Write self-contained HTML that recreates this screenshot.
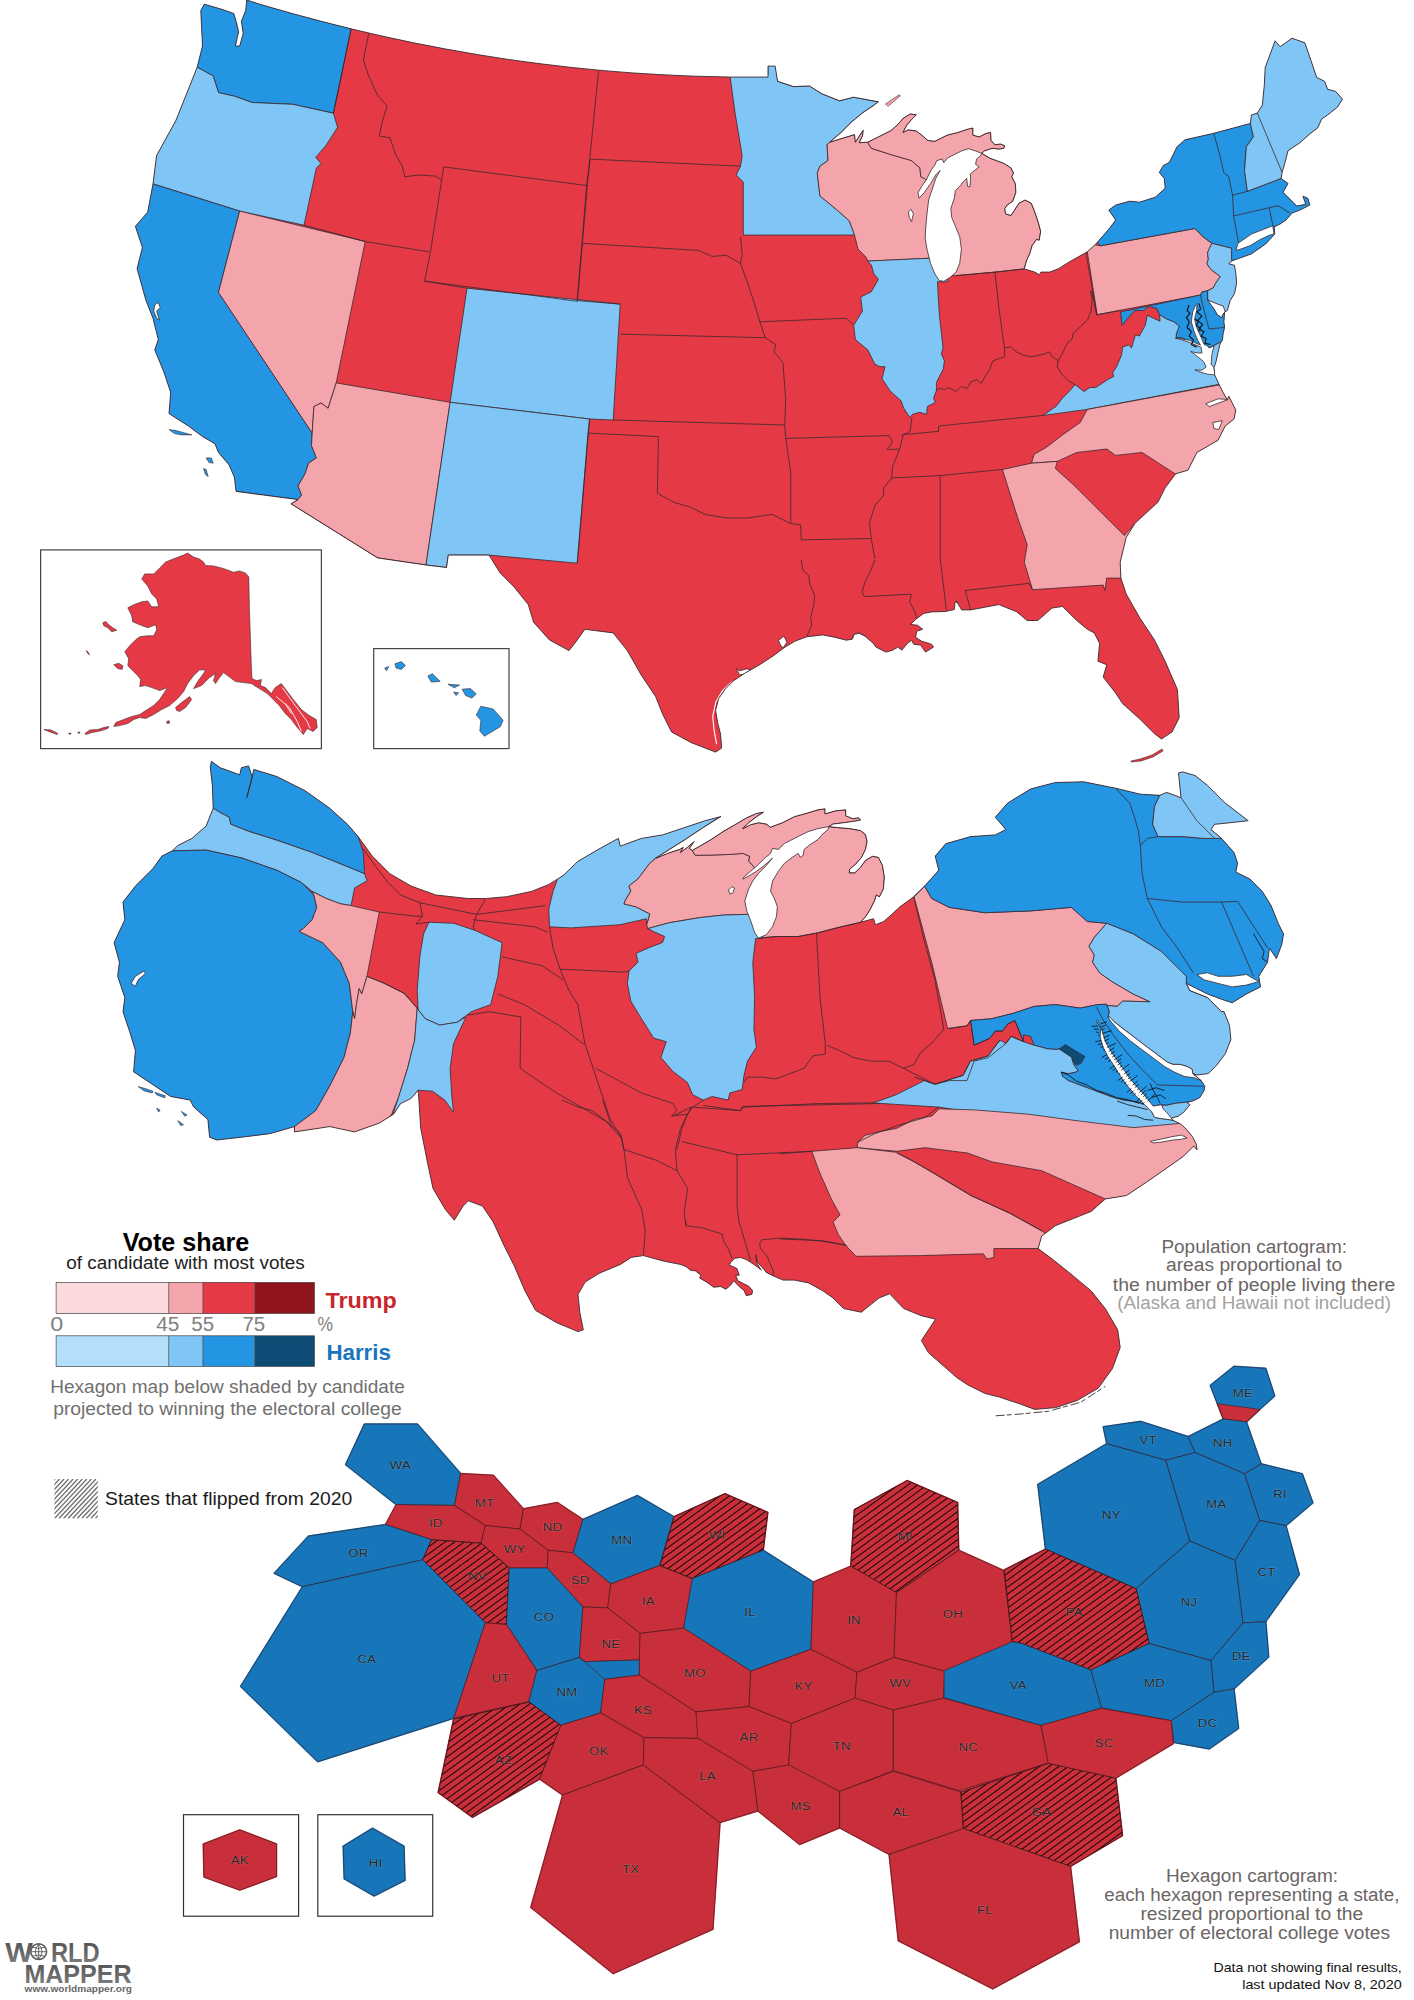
<!DOCTYPE html>
<html><head><meta charset="utf-8"><title>US election 2024 maps</title>
<style>html,body{margin:0;padding:0;background:#fff}svg{display:block}text{font-family:"Liberation Sans",sans-serif}</style>
</head><body>
<svg width="1414" height="2000" viewBox="0 0 1414 2000">
<rect width="1414" height="2000" fill="#fff"/>
<!-- map1 -->
<clipPath id="c1"><path d="M204.3,4.2 L220.2,8.8 L233.7,13.4 L236.1,21.2 L238.6,31.8 L235.4,46 L239.7,46 L243.2,33.6 L241.4,21.2 L245.7,10.6 L246.7,0 L260,4.3 L291,13.2 L322,21.5 L353,29.3 L384,36.5 L415,43.1 L446,49.1 L477,54.5 L508,59.4 L539,63.6 L570,67.3 L601,70.4 L632,72.9 L663,74.8 L694,76.2 L725,76.9 L729.8,77.1 L768,77.1 L768,66.1 L775.1,66.1 L777.6,81.3 L793.5,86.6 L809.4,85.9 L821.8,93.7 L839.5,100.8 L853.6,97.2 L878.4,101.8 L873,105.9 L862.4,113 L851.8,121.8 L841.2,132.4 L829.7,142.2 L843,138.1 L854.5,134.6 L855.4,142.2 L859.8,135.1 L863.3,130.3 L862.4,136.3 L859.3,142.7 L867.7,142.2 L878.3,136.9 L890.7,130.7 L897.8,124.5 L903.1,118.3 L910.2,113.9 L916.4,114.8 L911.9,119.2 L906.6,125.4 L903.1,132.4 L908.4,129.8 L916.4,131 L921.7,135.1 L927.9,140.4 L934.9,141.3 L940.2,138.6 L947.3,135.1 L957.9,132.4 L968.5,128.9 L972.9,128 L972.9,135.1 L979.1,136.9 L986.2,133.3 L990.6,132.4 L991.1,140.4 L995,144.8 L1000.3,143.9 L1004.8,145.7 L1003.9,148.3 L998.6,149.2 L992.4,148.3 L984.4,151 L981.8,153.3 L989.7,158.1 L996.8,160.7 L1003.9,163.4 L1010.9,167.8 L1013.6,173.1 L1011.8,176.6 L1015.4,183.7 L1015.9,192.5 L1012.7,201.4 L1007.4,204.9 L1004.8,208.5 L1005.6,213.8 L1010.9,215.5 L1014.5,210.2 L1018.9,203.2 L1025.1,200 L1031.3,203.2 L1034.8,212 L1038.4,222.6 L1040.7,231.4 L1039.2,240.3 L1036.6,239.4 L1032.2,245.6 L1029.5,254.4 L1026.9,259.7 L1024.2,268.9 L1034.8,272.1 L1039.2,274.8 L1041,272.1 L1049.8,272.1 L1058.7,268.6 L1070,261.5 L1087.3,251.8 L1095.9,244 L1109.8,227.9 L1115.7,220 L1108.8,210.1 L1115.7,205.1 L1129.6,201.2 L1139.5,202.2 L1155.3,197.2 L1165.2,188.3 L1164.3,178.4 L1159.3,172.5 L1163.3,165.5 L1169.2,162.6 L1177.1,146.7 L1185,139.8 L1213.8,133.3 L1250.4,123.4 L1251.4,115 L1257.3,113.1 L1262.3,105.1 L1264.3,85.3 L1265.2,67.5 L1275.1,40.8 L1280.1,46.7 L1292,38.2 L1304.9,42.8 L1316.7,77.4 L1324.7,81.4 L1327.6,89.3 L1335.5,91.3 L1342.5,99.2 L1337.5,107.1 L1327.6,115 L1321.7,119 L1317.7,127.9 L1309.8,133.9 L1299.9,142.8 L1288,150.7 L1285,162.6 L1282.1,172.5 L1281.1,178.4 L1288,183.4 L1283.1,192.3 L1290,199.2 L1296.9,206.1 L1305.8,204.2 L1302.9,196.2 L1307.8,198.2 L1309.8,205.1 L1299.9,210.1 L1292,213.1 L1286,220 L1280.1,224 L1274.2,226.9 L1274.8,234.1 L1265.6,244 L1251.4,253.9 L1237.3,258.9 L1231.6,261 L1228.8,263.8 L1234.5,265.3 L1235.9,273.7 L1236.6,283.6 L1234.5,293.6 L1230.2,300.6 L1227.4,310.5 L1224.6,311.9 L1223.9,321.8 L1224.6,327.5 L1223.2,333.2 L1222.4,340.2 L1220.3,343.1 L1218.2,351.5 L1216.1,361.4 L1214,367.8 L1214.7,374.9 L1218.9,384.1 L1223.2,392.6 L1227.4,400.1 L1228.7,396 L1235.8,410.1 L1234,419 L1225.2,426 L1218.1,440.2 L1196.9,452.5 L1188,470.2 L1175.7,473.8 L1165.1,487.9 L1158,502.1 L1135,523.3 L1126.2,537.4 L1120.2,562.2 L1120.9,578.1 L1126.2,594 L1140.3,618.7 L1154.5,640 L1165.1,661.2 L1177.4,689.5 L1179.2,717.8 L1172.1,731.9 L1161.5,739 L1154.5,733.7 L1140.3,719.5 L1122.6,703.6 L1115.6,693 L1103.2,677.1 L1106.7,664.7 L1097.9,661.2 L1099.6,643.5 L1094.3,632.9 L1087.3,629.3 L1076.7,620.5 L1062.5,606.4 L1051.9,608.1 L1037.8,620.5 L1027.2,620.5 L1016.5,611.7 L998.9,604.6 L970.6,609.9 L961.7,609.9 L956.4,601.1 L958.2,602.6 L955.2,601.6 L954.3,609.5 L945.3,611.5 L931.5,611.9 L923.6,613.5 L915.6,619.4 L910.7,624.4 L917.6,625.3 L922.6,629.3 L916.6,631.3 L915.6,637.2 L921.6,641.2 L931.5,644.2 L933.5,647.1 L925.5,652.1 L920.6,645.1 L913.7,644.2 L911.7,640.2 L907.7,643.2 L901.8,650.1 L897.8,647.1 L892.9,650.1 L885.9,652.1 L876,647.1 L873.1,643.2 L865.1,636.2 L859.2,633.3 L854.3,634.3 L852.3,639.2 L846.3,640.2 L834.5,637.2 L822.6,634.9 L806.7,636.8 L794.9,641.2 L785,647.1 L773.1,656 L759.2,665 L745.3,672.9 L733.5,680.8 L725.5,688.7 L718.6,698.6 L715.6,710.5 L717.6,722.4 L720.6,734.3 L721.6,748.1 L715.6,752.1 L690.9,742.5 L671.5,731.9 L662.7,714.2 L655.6,696.5 L641.4,675.3 L627.3,650.6 L613.2,632.9 L584.9,629.3 L576,641.7 L569,650.6 L549.5,640 L533.6,622.3 L528.3,604.6 L514.1,586.9 L500,572.8 L489,555.1 L448.3,555.1 L446.5,567.5 L426,565 L377.6,557.9 L290.9,503.8 L298,499.6 L236.1,491.4 L234.4,477.3 L229.1,464.9 L218.5,452.5 L214.9,443.7 L202.5,436.6 L188.4,426 L169,413.6 L170.7,392.4 L163.6,371.2 L154.8,350 L158.3,339.5 L153,318.2 L146,300.6 L137.1,268.7 L142.4,247.5 L135.4,226.3 L147.7,212.2 L153,183.9 L156.6,155.6 L176,120.2 L197.2,67.2 L202.5,46 L200.8,10.6Z"/></clipPath>
<g clip-path="url(#c1)">
<rect x="80" y="0" width="1300" height="770" fill="#e63946"/>
<path d="M188.4,-10.6 L246.7,-10.6 L351.1,29 L333.4,113.2 L292.7,104.3 L269.7,103.3 L252.1,102.5 L234.4,96.2 L218.5,92.6 L213.2,76 L197.2,67.2 L181.3,67.2Z" fill="#2395e3" stroke="#3a2a2e" stroke-width="0.8" stroke-linejoin="round"/>
<path d="M181.3,67.2 L197.2,67.2 L213.2,76 L218.5,92.6 L234.4,96.2 L252.1,102.5 L269.7,103.3 L292.7,104.3 L333.4,113.2 L337.6,127.3 L326.3,145 L315.7,157.4 L321,163.4 L316.4,168 L304,225.2 L239.7,211.1 L153,183.9 L128.3,176.8Z" fill="#7fc6f6" stroke="#3a2a2e" stroke-width="0.8" stroke-linejoin="round"/>
<path d="M128.3,176.8 L153,183.9 L239.7,211.1 L218.5,292.4 L312.2,433.1 L311.5,445.5 L316.4,457.9 L308.6,463.2 L305.1,473.8 L298,486.1 L301.6,495 L298,499.6 L236.1,491.4 L206.1,509.1 L85.9,456.1Z" fill="#2395e3" stroke="#3a2a2e" stroke-width="0.8" stroke-linejoin="round"/>
<path d="M239.7,211.1 L365.2,241.5 L336.2,382.9 L328.1,408.3 L321,403 L313.9,406.6 L312.2,433.1 L218.5,292.4Z" fill="#f4a5ab" stroke="#3a2a2e" stroke-width="0.8" stroke-linejoin="round"/>
<path d="M336.2,382.9 L450.1,402.3 L426,565 L377.6,557.9 L290.9,503.8 L298,499.6 L301.6,495 L298,486.1 L305.1,473.8 L308.6,463.2 L316.4,457.9 L311.5,445.5 L312.2,433.1 L313.9,406.6 L321,403 L328.1,408.3Z" fill="#f4a5ab" stroke="#3a2a2e" stroke-width="0.8" stroke-linejoin="round"/>
<path d="M467,288.2 L620.2,304.1 L613.2,420 L589.5,419 L450.1,402.3Z" fill="#7fc6f6" stroke="#3a2a2e" stroke-width="0.8" stroke-linejoin="round"/>
<path d="M450.1,402.3 L589.7,419 L588,433.1 L577.4,563.2 L489,555.1 L448.3,555.1 L446.5,567.5 L426,565Z" fill="#7fc6f6" stroke="#3a2a2e" stroke-width="0.8" stroke-linejoin="round"/>
<path d="M729.8,74.3 L768,74.3 L768,63.6 L777.6,63.6 L777.6,81.3 L793.5,86.6 L809.4,85.9 L821.8,93.7 L839.5,100.8 L853.6,97.2 L878.4,101.8 L873,105.9 L862.4,113 L851.8,121.8 L841.2,132.4 L829.7,142.2 L827.1,144.8 L828,160.7 L820,166 L817.3,173.1 L819.1,189 L820,196.1 L828.8,203.2 L839.4,212 L849.2,220.8 L852.7,229.7 L854.5,235 L743.3,235.1 L743.3,182.1 L736.2,175 L740.5,166.2 L742.2,155.6 L735.1,113.2Z" fill="#7fc6f6" stroke="#3a2a2e" stroke-width="0.8" stroke-linejoin="round"/>
<path d="M829.7,142.2 L843,138.1 L854.5,134.6 L855.4,142.2 L859.8,135.1 L863.3,130.3 L862.4,136.3 L859.3,142.7 L867.7,142.2 L871.3,148.3 L890.7,154.5 L911.9,160.7 L915.5,164.3 L919.9,167.8 L920.8,176.6 L924.3,178.4 L926.1,180.2 L942,166 L949.1,167.8 L949.1,258.3 L927,258.3 L867.7,261.1 L866,257.1 L858,249.1 L854.5,235 L852.7,229.7 L849.2,220.8 L839.4,212 L828.8,203.2 L820,196.1 L819.1,189 L817.3,173.1 L820,166 L828,160.7 L827.1,144.8 L829.7,142.2Z" fill="#f4a5ab" stroke="#3a2a2e" stroke-width="0.8" stroke-linejoin="round"/>
<path d="M867.7,142.2 L878.3,136.9 L890.7,130.7 L897.8,124.5 L903.1,118.3 L910.2,113.9 L916.4,114.8 L911.9,119.2 L906.6,125.4 L903.1,132.4 L908.4,129.8 L916.4,131 L921.7,135.1 L927.9,140.4 L934.9,141.3 L940.2,138.6 L947.3,135.1 L957.9,132.4 L968.5,128.9 L972.9,128 L972.9,135.1 L979.1,136.9 L986.2,133.3 L990.6,132.4 L991.1,140.4 L995,144.8 L1000.3,143.9 L1004.8,145.7 L1003.9,148.3 L998.6,149.2 L992.4,148.3 L984.4,151 L981.8,153.3 L961.4,164.3 L942,166 L926.1,180.2 L924.3,178.4 L920.8,176.6 L919.9,167.8 L915.5,164.3 L911.9,160.7 L890.7,154.5 L871.3,148.3 L867.7,142.2Z" fill="#f4a5ab" stroke="#3a2a2e" stroke-width="0.8" stroke-linejoin="round"/>
<path d="M981.8,153.3 L989.7,158.1 L996.8,160.7 L1003.9,163.4 L1010.9,167.8 L1013.6,173.1 L1011.8,176.6 L1015.4,183.7 L1015.9,192.5 L1012.7,201.4 L1007.4,204.9 L1004.8,208.5 L1005.6,213.8 L1010.9,215.5 L1014.5,210.2 L1018.9,203.2 L1025.1,200 L1031.3,203.2 L1034.8,212 L1038.4,222.6 L1040.7,231.4 L1039.2,240.3 L1036.6,239.4 L1032.2,245.6 L1029.5,254.4 L1026.9,259.7 L1024.2,268.9 L995,272.1 L956.1,275.6 L943.8,275.6 L947.3,213.8 L950.8,178.4 L970.3,160.7Z" fill="#f4a5ab" stroke="#3a2a2e" stroke-width="0.8" stroke-linejoin="round"/>
<path d="M867.7,261.1 L927,258.3 L947.3,258.3 L947.3,281.8 L937.4,281.8 L937.4,281.6 L939.4,315.2 L943,347.9 L941.4,353.9 L944.4,360.8 L943.4,368.7 L939.4,376.6 L936.4,382.6 L936.4,390.5 L933.5,398.4 L935.4,402.4 L927.5,406.3 L926.5,414.3 L919.6,412.3 L912.7,414.3 L909.7,417.2 L903.8,408.3 L900.8,400.4 L893.9,394.5 L889.9,390.5 L882,378.6 L885,366.7 L880,366.7 L874.8,364.1 L867.8,350 L855.4,339.5 L853.6,325.3 L862.4,311.2 L860.7,297 L871.3,291.7 L878.4,279.3 L873.9,273.9 L871.3,265Z" fill="#7fc6f6" stroke="#3a2a2e" stroke-width="0.8" stroke-linejoin="round"/>
<path d="M1097.2,314.7 L1087.3,251.8 L1090.8,244 L1100.4,245.8 L1194.9,228.5 L1203.4,237 L1211.8,243.3 L1207.6,252.5 L1208.3,259.6 L1206.9,263.8 L1211.1,269.5 L1220.3,276.6 L1215.4,283.6 L1213.3,287.9 L1207.6,290.7 L1201.9,292.1 L1200.5,295Z" fill="#f4a5ab" stroke="#3a2a2e" stroke-width="0.8" stroke-linejoin="round"/>
<path d="M1100.4,245.8 L1083.7,226.3 L1154.5,155.6 L1184.5,130.8 L1214.6,127.3 L1250.4,121 L1253.4,136.8 L1246.4,146.7 L1244.5,170.5 L1247.4,191.3 L1281.1,178.4 L1307.8,178.4 L1347.4,218 L1288,277.4 L1231.6,262.4 L1231.6,248.3 L1211.8,243.3 L1203.4,237 L1194.9,228.5Z" fill="#2395e3" stroke="#3a2a2e" stroke-width="0.8" stroke-linejoin="round"/>
<path d="M1250.4,123.4 L1248.4,113.1 L1257.3,107.1 L1262.3,85.3 L1264.3,67.5 L1274.2,31.9 L1307.8,31.9 L1367.2,99.2 L1307.8,178.4 L1281.1,178.4 L1247.4,191.3 L1244.5,170.5 L1246.4,146.7 L1253.4,136.8Z" fill="#7fc6f6" stroke="#3a2a2e" stroke-width="0.8" stroke-linejoin="round"/>
<path d="M1211.8,243.3 L1231.6,248.3 L1231.6,260.3 L1244.4,262.4 L1244.4,319 L1223.2,319 L1223.2,306.3 L1218.9,304.9 L1211.8,302 L1207.6,299.9 L1207.6,290.7 L1213.3,287.9 L1215.4,283.6 L1220.3,276.6 L1211.1,269.5 L1206.9,263.8 L1208.3,259.6 L1207.6,252.5Z" fill="#7fc6f6" stroke="#3a2a2e" stroke-width="0.8" stroke-linejoin="round"/>
<path d="M1120.6,311.9 L1200.5,295 L1201.9,292.1 L1207.6,290.7 L1207.6,299.9 L1213.3,307.7 L1217.5,314.8 L1221.7,317.6 L1223.2,313.6 L1227.4,311.9 L1227.4,321.8 L1227.4,340.2 L1221.7,341.6 L1209,348 L1200.5,345.9 L1196.3,345.9 L1189.2,341.6 L1180.7,337.4 L1175.8,338.8 L1176.5,333.2 L1179.3,326.1 L1173.6,321.8 L1166.6,319 L1159.5,314.8 L1156.7,308.4 L1148.2,306.6 L1143.9,310.5 L1134.8,310.5 L1128.4,317.6 L1122,325.4Z" fill="#2395e3" stroke="#3a2a2e" stroke-width="0.8" stroke-linejoin="round"/>
<path d="M1232.2,381.8 L1087.3,409.4 L1043.1,415.4 L1050.3,410.3 L1056.2,406.3 L1062.2,398.4 L1070.1,390.5 L1075,384.6 L1080,388.5 L1084,391.5 L1089.9,387.5 L1095.8,387.5 L1101.8,383.6 L1107.7,379.6 L1113.7,376.6 L1112.7,372.7 L1116.6,366.7 L1121.6,354.9 L1122.6,346.9 L1128.5,345 L1131.5,347.9 L1135.4,335 L1139.4,336 L1145.3,325.1 L1147.3,315.2 L1153.3,318.2 L1160,321.2 L1159.5,314.8 L1166.6,319 L1173.6,321.8 L1179.3,326.1 L1176.5,333.2 L1175.8,338.8 L1180.7,337.4 L1189.2,341.6 L1196.3,345.9 L1200.5,345.9 L1209,348 L1221.7,341.6 L1227.4,340.2 L1227.4,375.6Z" fill="#7fc6f6" stroke="#3a2a2e" stroke-width="0.8" stroke-linejoin="round"/>
<path d="M1232.2,382.5 L1087.3,409.4 L1080.2,422.5 L1062.5,434.9 L1046.6,447.2 L1034.2,454.3 L1031.4,463.2 L1057.2,461.4 L1076.7,452.5 L1106.7,449 L1115.6,455.4 L1142.1,452.5 L1175,473.8 L1196.9,480.8 L1253.5,456.1 L1253.5,385.4Z" fill="#f4a5ab" stroke="#3a2a2e" stroke-width="0.8" stroke-linejoin="round"/>
<path d="M1002.4,469.5 L1031.4,463.2 L1057.2,461.4 L1055.4,468.5 L1073.1,484.4 L1090.8,502.1 L1108.5,519.7 L1124.4,535.6 L1135,523.3 L1147.4,526.8 L1147.4,578.1 L1120.9,578.1 L1106.7,578.1 L1104.9,590.5 L1103.2,585.1 L1032.5,589.7 L1024.3,562.2 L1027.2,544.5 L1018.3,519.7Z" fill="#f4a5ab" stroke="#3a2a2e" stroke-width="0.8" stroke-linejoin="round"/>
<path d="M351.1,29 L333.4,113.2" fill="none" stroke="#3a2a2e" stroke-width="0.8" stroke-linejoin="round"/>
<path d="M368.7,33.6 L363.4,60.1 L368.7,76 L377.6,95.5 L387.1,106.1 L382.2,122 L379.3,136.1 L390,137.9 L395.3,153.8 L402.3,166.2 L404.8,176.8 L418.2,175 L435.9,176.1 L441.2,180.3" fill="none" stroke="#3a2a2e" stroke-width="0.8" stroke-linejoin="round"/>
<path d="M443.7,166.9 L430.6,251.1" fill="none" stroke="#3a2a2e" stroke-width="0.8" stroke-linejoin="round"/>
<path d="M304,225.2 L365.2,241.5 L428.9,251.8" fill="none" stroke="#3a2a2e" stroke-width="0.8" stroke-linejoin="round"/>
<path d="M443.7,166.9 L587.3,185.6 L577.4,301.3 L424.6,281.1 L430.6,251.1" fill="none" stroke="#3a2a2e" stroke-width="0.8" stroke-linejoin="round"/>
<path d="M598.6,70.7 L589.7,159.1 L587.3,185.6" fill="none" stroke="#3a2a2e" stroke-width="0.8" stroke-linejoin="round"/>
<path d="M424.6,281.1 L467,288.2" fill="none" stroke="#3a2a2e" stroke-width="0.8" stroke-linejoin="round"/>
<path d="M590.2,159.1 L740.5,166.2" fill="none" stroke="#3a2a2e" stroke-width="0.8" stroke-linejoin="round"/>
<path d="M590.2,159.1 L586.6,185.6 L582,243.3 L577.1,300.6" fill="none" stroke="#3a2a2e" stroke-width="0.8" stroke-linejoin="round"/>
<path d="M582,243.3 L698,250.4 L712.2,256.4 L726.3,255.3 L740.5,263.4" fill="none" stroke="#3a2a2e" stroke-width="0.8" stroke-linejoin="round"/>
<path d="M740.5,236.9 L742.2,254.6 L740.5,263.4 L747.5,282.9 L754.6,304.1 L759.9,321.8 L765.2,337.7 L775.8,344.8 L774,351.8 L782.9,362.4 L785.7,399.9" fill="none" stroke="#3a2a2e" stroke-width="0.8" stroke-linejoin="round"/>
<path d="M759.9,321.8 L846.5,318.2 L853.6,325.3" fill="none" stroke="#3a2a2e" stroke-width="0.8" stroke-linejoin="round"/>
<path d="M620.2,334.2 L765.2,337.7" fill="none" stroke="#3a2a2e" stroke-width="0.8" stroke-linejoin="round"/>
<path d="M577.1,300.6 L620.2,304.1" fill="none" stroke="#3a2a2e" stroke-width="0.8" stroke-linejoin="round"/>
<path d="M956.1,275.6 L995,272.1 L1024.2,268.9" fill="none" stroke="#3a2a2e" stroke-width="0.8" stroke-linejoin="round"/>
<path d="M613.2,420 L784.7,425" fill="none" stroke="#3a2a2e" stroke-width="0.8" stroke-linejoin="round"/>
<path d="M785.7,399.9 L784.7,425" fill="none" stroke="#3a2a2e" stroke-width="0.8" stroke-linejoin="round"/>
<path d="M589.5,419 L588.4,433.1 L658.4,436.6 L657.4,493.2 L673.3,502.1 L690.9,507.4 L705.1,514.4 L726.3,518 L747.5,518 L772.3,514.4 L790,523.3 L800.6,525 L801.3,539.9" fill="none" stroke="#3a2a2e" stroke-width="0.8" stroke-linejoin="round"/>
<path d="M801.2,560 L802.8,569.9 L808.7,575.8 L809.7,583.8 L814.7,595.6 L813.7,605.5 L810.7,617.4 L811.7,625.3 L806.7,636.8" fill="none" stroke="#3a2a2e" stroke-width="0.8" stroke-linejoin="round"/>
<path d="M588.4,433.1 L577.1,563.2" fill="none" stroke="#3a2a2e" stroke-width="0.8" stroke-linejoin="round"/>
<path d="M784.7,425 L785.7,438.4 L790.7,472 L790.7,523.3" fill="none" stroke="#3a2a2e" stroke-width="0.8" stroke-linejoin="round"/>
<path d="M785.7,438.4 L889,435.6 L892.5,441.9 L887.2,449.7 L899.6,449" fill="none" stroke="#3a2a2e" stroke-width="0.8" stroke-linejoin="round"/>
<path d="M801.3,539.9 L870.6,538.5" fill="none" stroke="#3a2a2e" stroke-width="0.8" stroke-linejoin="round"/>
<path d="M912,417.2 L910.2,431.3 L903.1,434.9 L899.6,449 L892.5,466.7 L891.8,478 L883.7,487.9 L883.7,495 L874.8,505.6 L869.5,523.3 L871.3,538.5 L874.8,558.6" fill="none" stroke="#3a2a2e" stroke-width="0.8" stroke-linejoin="round"/>
<path d="M875,560 L870.1,571.9 L865.1,581.8 L862.2,591.7 L864.2,596.6 L911.3,594.1 L909.7,601.6 L914.7,611.5 L916.6,618.4" fill="none" stroke="#3a2a2e" stroke-width="0.8" stroke-linejoin="round"/>
<path d="M891.8,478 L940.2,475.5" fill="none" stroke="#3a2a2e" stroke-width="0.8" stroke-linejoin="round"/>
<path d="M940.2,475.5 L940.2,560" fill="none" stroke="#3a2a2e" stroke-width="0.8" stroke-linejoin="round"/>
<path d="M940.4,560 L946.3,609.5" fill="none" stroke="#3a2a2e" stroke-width="0.8" stroke-linejoin="round"/>
<path d="M901.3,434.9 L938.5,431.3 L938.5,426" fill="none" stroke="#3a2a2e" stroke-width="0.8" stroke-linejoin="round"/>
<path d="M938.8,426 L1043.1,415.4" fill="none" stroke="#3a2a2e" stroke-width="0.8" stroke-linejoin="round"/>
<path d="M940.2,475.5 L1002.4,469.5" fill="none" stroke="#3a2a2e" stroke-width="0.8" stroke-linejoin="round"/>
<path d="M965.3,590.5 L1028.9,583.4 L1032.5,589.7" fill="none" stroke="#3a2a2e" stroke-width="0.8" stroke-linejoin="round"/>
<path d="M965.3,590.5 L970.6,609.9" fill="none" stroke="#3a2a2e" stroke-width="0.8" stroke-linejoin="round"/>
<path d="M1213.8,133.3 L1219.7,154.7 L1223.7,172.5 L1228.6,176.4 L1232.6,195.2 L1233.6,216 L1238.5,242.8" fill="none" stroke="#3a2a2e" stroke-width="0.8" stroke-linejoin="round"/>
<path d="M1257.3,113.1 L1282.1,172.5" fill="none" stroke="#3a2a2e" stroke-width="0.8" stroke-linejoin="round"/>
<path d="M1232.6,195.2 L1247.4,191.3" fill="none" stroke="#3a2a2e" stroke-width="0.8" stroke-linejoin="round"/>
<path d="M1233.6,216 L1269.2,207.7 L1278.1,205.7 L1290,213.1" fill="none" stroke="#3a2a2e" stroke-width="0.8" stroke-linejoin="round"/>
<path d="M1269.2,207.7 L1273.2,226.9" fill="none" stroke="#3a2a2e" stroke-width="0.8" stroke-linejoin="round"/>
<path d="M1200.5,295 L1202.6,304.9 L1209,328.9 L1223.9,327.5" fill="none" stroke="#3a2a2e" stroke-width="0.8" stroke-linejoin="round"/>
<path d="M936.4,390.5 L939.4,388.5 L945.3,389.5 L948.3,387.5 L956.2,391.5 L961.2,386.5 L967.1,388.5 L971.1,381.6 L977,379.6 L981,383.6 L985,376.6 L988.9,370.7 L992.9,360.8 L998.8,358.8 L1004.8,356.8 L1004.4,347.9 L1010.7,346.9 L1016.6,351.9 L1022.6,354.9 L1030.5,356.8 L1036.4,355.8 L1044.4,353.9 L1049.3,351.9 L1052.3,356.8 L1058.2,360.8 L1062.2,353.9 L1065.1,347.9 L1068.1,342 L1072.1,339 L1073.1,333.1 L1078,329.1 L1082,325.1 L1087.9,319.2 L1090.9,311.3 L1092.3,299.4 L1090.3,291.1 L1091.9,291.5 L1096.8,314.9" fill="none" stroke="#3a2a2e" stroke-width="0.8" stroke-linejoin="round"/>
<path d="M994.9,271.7 L998.8,307.3 L1004.4,347.9" fill="none" stroke="#3a2a2e" stroke-width="0.8" stroke-linejoin="round"/>
<path d="M1085.9,251.9 L1096.8,314.9" fill="none" stroke="#3a2a2e" stroke-width="0.8" stroke-linejoin="round"/>
<path d="M1058.2,360.8 L1057.2,366.7 L1062.2,374.7 L1068.1,380.6 L1075,384.6" fill="none" stroke="#3a2a2e" stroke-width="0.8" stroke-linejoin="round"/>
<path d="M1096.8,314.9 L1120.6,310.3" fill="none" stroke="#3a2a2e" stroke-width="0.8" stroke-linejoin="round"/>
<path d="M981.8,153.3 L975.6,151 L968.5,148.7 L961.4,151 L954.4,154.5 L947.3,158.1 L943.8,162.8 L942,159 L936.7,160.7 L934.9,165.1 L931.4,169.6 L926.1,180.2 L921.7,186.4 L918.1,192.5 L919,198.2 L924.3,192.5 L930.5,183.7 L935.8,174.9 L940.2,170.4 L938.1,174 L935.8,178.4 L932.3,189 L928.7,199.6 L927,213.8 L925.7,227.9 L925.2,238.5 L927,249.1 L930.5,263.3 L934.9,273.9 L939.3,280.6 L943.8,281.3 L950,277.4 L956.1,272.1 L959.7,263.3 L961.4,249.1 L959.7,236.7 L955.3,226.1 L951.7,217.3 L950.8,208.5 L954.4,197.9 L955.3,190.8 L959.7,186.4 L963.2,181.9 L966.7,178.4 L967.6,186.4 L969.9,186.9 L970.6,178.4 L970.3,174 L975.6,169.6 L979.1,166.9 L975.6,164.3 L976.5,159 L980,156.3Z" fill="#fff" stroke="#3a2a2e" stroke-width="0.8" stroke-linejoin="round"/>
<path d="M908.4,212 L911.1,209.3 L913.4,213.8 L911.6,221.7 L909.3,217.3Z" fill="#fff" stroke="#3a2a2e" stroke-width="0.8" stroke-linejoin="round"/>
<path d="M1235.9,250.4 L1238,243.3 L1251.4,234.1 L1272.7,225.7 L1274.1,233.9 L1268.4,235.6 L1259.9,239.8 L1250,245.7 L1240.1,249.3Z" fill="#fff" stroke="#3a2a2e" stroke-width="0.8" stroke-linejoin="round"/>
<path d="M1207.6,299.9 L1211.8,301.8 L1218.9,304.6 L1223.2,306 L1225.3,311.9 L1223.2,313.6 L1221.7,317.6 L1217.5,314.8 L1213.3,307.7 L1209,302Z" fill="#fff" stroke="#3a2a2e" stroke-width="0.8" stroke-linejoin="round"/>
<path d="M1214,367.8 L1215.4,374.9 L1207.6,374.2 L1200.5,372.1 L1194.9,369.9 L1201.9,370.2 L1206.2,367.1 L1203.4,361.4 L1194.9,354.4 L1190.6,351.5 L1197.7,353 L1201.9,353 L1201.2,347.3 L1189.2,342.3 L1176.5,338.1 L1189.2,340.2 L1200.5,345.2 L1197.7,340.2 L1194.2,331.7 L1191.3,321.8 L1192.7,311.9 L1195.6,304.9 L1197,303.5 L1196.6,310.5 L1194.6,319 L1196.6,327.5 L1200.5,336 L1204.1,344.5 L1207.6,345.9 L1209,348 L1214,345.9 L1211.8,354.4 L1211.1,364.3Z" fill="#fff" stroke="#3a2a2e" stroke-width="0.8" stroke-linejoin="round"/>
<path d="M1205.7,403.7 L1218.1,398.8 L1228,399.5 L1218.8,403 L1209.3,406.6Z" fill="#fff" stroke="#3a2a2e" stroke-width="0.8" stroke-linejoin="round"/>
<path d="M1212.8,422.5 L1222.3,420.7 L1218.8,429.6 L1213.9,428.5Z" fill="#fff" stroke="#3a2a2e" stroke-width="0.8" stroke-linejoin="round"/>
<path d="M154.8,304.8 L158.3,302.3 L160.1,307.6 L156.6,311.2 L159.4,320 L156.6,318.2 L153.7,311.2Z" fill="#fff" stroke="#3a2a2e" stroke-width="0.8" stroke-linejoin="round"/>
<path d="M778.6,640.2 L784,636.2 L786.9,642.2 L783,648.1 L780,644.2Z" fill="#fff" stroke="#3a2a2e" stroke-width="0.8" stroke-linejoin="round"/>
<path d="M736.4,667.9 L739.4,670.9 L746.3,668.9 L752.3,669.9 L745.3,673.9 L739.4,674.9Z" fill="#fff" stroke="#3a2a2e" stroke-width="0.8" stroke-linejoin="round"/>
<path d="M852.3,635.6 L858.2,632.7 L865.1,635.6 L861.2,638.6 L854.3,638.6Z" fill="#fff" stroke="#3a2a2e" stroke-width="0.8" stroke-linejoin="round"/>
<path d="M716.6,744.2 L714.1,730.3 L712.7,716.4 L716,701.6 L722.6,690.7 L731.9,681.8" fill="none" stroke="#fff" stroke-width="1.1"/>
<path d="M1189.2,304.9 L1187.1,310.5 L1189.9,313.4 L1186.4,317.6 L1189.2,321.8 L1187.1,327.5 L1191.3,331.7 L1189.2,336 L1193.5,340.2 L1191.3,344.5 L1196.3,347.3" fill="none" stroke="#111" stroke-width="1.1" stroke-linejoin="round"/>
<path d="M1199.1,303.5 L1200.5,309.1 L1197,311.9 L1201.9,316.2 L1197.7,320.4 L1202.6,324.7 L1199.1,328.9 L1204.1,331.7 L1201.2,336 L1206.2,338.8 L1204.8,343.1 L1210.4,344.5" fill="none" stroke="#111" stroke-width="1.1" stroke-linejoin="round"/>
<path d="M1194.9,319 L1198.4,321.8 L1196.3,325.4 L1200.5,328.2 L1198.4,331.7" fill="none" stroke="#111" stroke-width="1.1" stroke-linejoin="round"/>
</g>
<path d="M204.3,4.2 L220.2,8.8 L233.7,13.4 L236.1,21.2 L238.6,31.8 L235.4,46 L239.7,46 L243.2,33.6 L241.4,21.2 L245.7,10.6 L246.7,0 L260,4.3 L291,13.2 L322,21.5 L353,29.3 L384,36.5 L415,43.1 L446,49.1 L477,54.5 L508,59.4 L539,63.6 L570,67.3 L601,70.4 L632,72.9 L663,74.8 L694,76.2 L725,76.9 L729.8,77.1 L768,77.1 L768,66.1 L775.1,66.1 L777.6,81.3 L793.5,86.6 L809.4,85.9 L821.8,93.7 L839.5,100.8 L853.6,97.2 L878.4,101.8 L873,105.9 L862.4,113 L851.8,121.8 L841.2,132.4 L829.7,142.2 L843,138.1 L854.5,134.6 L855.4,142.2 L859.8,135.1 L863.3,130.3 L862.4,136.3 L859.3,142.7 L867.7,142.2 L878.3,136.9 L890.7,130.7 L897.8,124.5 L903.1,118.3 L910.2,113.9 L916.4,114.8 L911.9,119.2 L906.6,125.4 L903.1,132.4 L908.4,129.8 L916.4,131 L921.7,135.1 L927.9,140.4 L934.9,141.3 L940.2,138.6 L947.3,135.1 L957.9,132.4 L968.5,128.9 L972.9,128 L972.9,135.1 L979.1,136.9 L986.2,133.3 L990.6,132.4 L991.1,140.4 L995,144.8 L1000.3,143.9 L1004.8,145.7 L1003.9,148.3 L998.6,149.2 L992.4,148.3 L984.4,151 L981.8,153.3 L989.7,158.1 L996.8,160.7 L1003.9,163.4 L1010.9,167.8 L1013.6,173.1 L1011.8,176.6 L1015.4,183.7 L1015.9,192.5 L1012.7,201.4 L1007.4,204.9 L1004.8,208.5 L1005.6,213.8 L1010.9,215.5 L1014.5,210.2 L1018.9,203.2 L1025.1,200 L1031.3,203.2 L1034.8,212 L1038.4,222.6 L1040.7,231.4 L1039.2,240.3 L1036.6,239.4 L1032.2,245.6 L1029.5,254.4 L1026.9,259.7 L1024.2,268.9 L1034.8,272.1 L1039.2,274.8 L1041,272.1 L1049.8,272.1 L1058.7,268.6 L1070,261.5 L1087.3,251.8 L1095.9,244 L1109.8,227.9 L1115.7,220 L1108.8,210.1 L1115.7,205.1 L1129.6,201.2 L1139.5,202.2 L1155.3,197.2 L1165.2,188.3 L1164.3,178.4 L1159.3,172.5 L1163.3,165.5 L1169.2,162.6 L1177.1,146.7 L1185,139.8 L1213.8,133.3 L1250.4,123.4 L1251.4,115 L1257.3,113.1 L1262.3,105.1 L1264.3,85.3 L1265.2,67.5 L1275.1,40.8 L1280.1,46.7 L1292,38.2 L1304.9,42.8 L1316.7,77.4 L1324.7,81.4 L1327.6,89.3 L1335.5,91.3 L1342.5,99.2 L1337.5,107.1 L1327.6,115 L1321.7,119 L1317.7,127.9 L1309.8,133.9 L1299.9,142.8 L1288,150.7 L1285,162.6 L1282.1,172.5 L1281.1,178.4 L1288,183.4 L1283.1,192.3 L1290,199.2 L1296.9,206.1 L1305.8,204.2 L1302.9,196.2 L1307.8,198.2 L1309.8,205.1 L1299.9,210.1 L1292,213.1 L1286,220 L1280.1,224 L1274.2,226.9 L1274.8,234.1 L1265.6,244 L1251.4,253.9 L1237.3,258.9 L1231.6,261 L1228.8,263.8 L1234.5,265.3 L1235.9,273.7 L1236.6,283.6 L1234.5,293.6 L1230.2,300.6 L1227.4,310.5 L1224.6,311.9 L1223.9,321.8 L1224.6,327.5 L1223.2,333.2 L1222.4,340.2 L1220.3,343.1 L1218.2,351.5 L1216.1,361.4 L1214,367.8 L1214.7,374.9 L1218.9,384.1 L1223.2,392.6 L1227.4,400.1 L1228.7,396 L1235.8,410.1 L1234,419 L1225.2,426 L1218.1,440.2 L1196.9,452.5 L1188,470.2 L1175.7,473.8 L1165.1,487.9 L1158,502.1 L1135,523.3 L1126.2,537.4 L1120.2,562.2 L1120.9,578.1 L1126.2,594 L1140.3,618.7 L1154.5,640 L1165.1,661.2 L1177.4,689.5 L1179.2,717.8 L1172.1,731.9 L1161.5,739 L1154.5,733.7 L1140.3,719.5 L1122.6,703.6 L1115.6,693 L1103.2,677.1 L1106.7,664.7 L1097.9,661.2 L1099.6,643.5 L1094.3,632.9 L1087.3,629.3 L1076.7,620.5 L1062.5,606.4 L1051.9,608.1 L1037.8,620.5 L1027.2,620.5 L1016.5,611.7 L998.9,604.6 L970.6,609.9 L961.7,609.9 L956.4,601.1 L958.2,602.6 L955.2,601.6 L954.3,609.5 L945.3,611.5 L931.5,611.9 L923.6,613.5 L915.6,619.4 L910.7,624.4 L917.6,625.3 L922.6,629.3 L916.6,631.3 L915.6,637.2 L921.6,641.2 L931.5,644.2 L933.5,647.1 L925.5,652.1 L920.6,645.1 L913.7,644.2 L911.7,640.2 L907.7,643.2 L901.8,650.1 L897.8,647.1 L892.9,650.1 L885.9,652.1 L876,647.1 L873.1,643.2 L865.1,636.2 L859.2,633.3 L854.3,634.3 L852.3,639.2 L846.3,640.2 L834.5,637.2 L822.6,634.9 L806.7,636.8 L794.9,641.2 L785,647.1 L773.1,656 L759.2,665 L745.3,672.9 L733.5,680.8 L725.5,688.7 L718.6,698.6 L715.6,710.5 L717.6,722.4 L720.6,734.3 L721.6,748.1 L715.6,752.1 L690.9,742.5 L671.5,731.9 L662.7,714.2 L655.6,696.5 L641.4,675.3 L627.3,650.6 L613.2,632.9 L584.9,629.3 L576,641.7 L569,650.6 L549.5,640 L533.6,622.3 L528.3,604.6 L514.1,586.9 L500,572.8 L489,555.1 L448.3,555.1 L446.5,567.5 L426,565 L377.6,557.9 L290.9,503.8 L298,499.6 L236.1,491.4 L234.4,477.3 L229.1,464.9 L218.5,452.5 L214.9,443.7 L202.5,436.6 L188.4,426 L169,413.6 L170.7,392.4 L163.6,371.2 L154.8,350 L158.3,339.5 L153,318.2 L146,300.6 L137.1,268.7 L142.4,247.5 L135.4,226.3 L147.7,212.2 L153,183.9 L156.6,155.6 L176,120.2 L197.2,67.2 L202.5,46 L200.8,10.6Z" fill="none" stroke="#3a2a2e" stroke-width="0.9" stroke-linejoin="round"/>
<path d="M1162,749 L1152,755 L1140,759 L1131,761 L1131,762 L1141,761 L1153,757 L1163,751Z" fill="#e63946" stroke="#3a2a2e" stroke-width="0.6"/>
<path d="M885.4,104.1 L898.7,95 L900.4,95.7 L888.1,106.3Z" fill="#f4a5ab" stroke="#3a2a2e" stroke-width="0.6"/>
<path d="M169,429.6 L176,430.6 L191.9,434.9 L181.3,434.9 L174.3,433.5Z" fill="#2395e3" stroke="#3a2a2e" stroke-width="0.6"/>
<path d="M206.1,457.9 L211.4,457.9 L213.2,463.2 L208.9,462.4Z" fill="#2395e3" stroke="#3a2a2e" stroke-width="0.6"/>
<path d="M203.6,468.5 L206.1,469.5 L208.2,476.6 L205.4,474.5Z" fill="#2395e3" stroke="#3a2a2e" stroke-width="0.6"/>
<rect x="40.6" y="549.9" width="280.8" height="198.7" fill="#fff" stroke="#444" stroke-width="1.2"/>
<rect x="373.7" y="648.6" width="135.3" height="100" fill="#fff" stroke="#444" stroke-width="1.2"/>
<path d="M187.6,553 L193.6,557 L199.5,559 L203.5,562 L205.5,565.6 L213.5,565.9 L221.5,567.9 L227.5,569.9 L233.5,572.3 L239.4,570.9 L245.4,572.9 L248.8,576.9 L249.4,607.8 L250.4,637.7 L251.4,667.7 L252,678.6 L256.4,680.6 L261.4,679.6 L260.4,685.6 L265.4,687.6 L271.3,693.6 L275.3,687.6 L281.3,683.6 L287.3,691.6 L293.3,699.6 L301.3,709.5 L309.2,715.5 L316.2,719.5 L317.2,727.5 L313.2,731.5 L307.2,728.5 L303.3,734.5 L297.3,727.5 L291.3,719.5 L285.3,713.5 L279.3,705.6 L273.3,699.6 L267.4,693.6 L259.4,688.6 L251.4,683.6 L243.4,682.6 L235.4,681.6 L227.5,675.6 L223.5,672.6 L219.5,677.6 L215.5,683.6 L213.5,680.6 L215.5,673.6 L209.5,677.6 L201.5,685.6 L193.6,688.6 L197.6,681.6 L203.5,673.6 L205.5,669.7 L199.5,670.1 L193.6,675.6 L187.6,683.6 L183.6,691.6 L177.6,698.6 L169.6,705.6 L161.7,709.5 L153.7,714.5 L145.7,718.5 L139.7,717.5 L133.7,719.5 L127.8,723.5 L119.8,725.5 L113.8,726.5 L115.8,722.5 L123.8,719.5 L131.7,716.5 L139.7,714.5 L145.7,710.5 L153.7,705.6 L159.7,699.6 L163.6,693.6 L167.6,687.6 L159.7,690.6 L151.7,687.6 L145.7,685.6 L139.7,686.6 L140.7,679.6 L137.7,675.6 L133.7,671.6 L127.8,665.7 L128.7,658.7 L124.8,651.7 L129.7,645.7 L135.7,639.7 L139.7,636.7 L147.7,635.8 L153.7,635.8 L156.7,629.8 L155.7,624.8 L147.7,627.8 L139.7,624.8 L132.7,621.8 L131.7,615.8 L127.8,607.8 L133.7,604.8 L141.7,601.8 L147.7,600.9 L151.7,606.8 L158.7,606.8 L156.7,598.9 L151.7,593.9 L147.7,585.9 L141.7,578.9 L144.7,573.9 L153.7,573.9 L159.7,567.9 L165.6,562 L175.6,558 L183.6,555Z" fill="#e63946" stroke="#3a2a2e" stroke-width="0.6" stroke-linejoin="round"/>
<path d="M175.6,707.5 L181.6,702.6 L189.6,696.6 L191.6,699.6 L185.6,707.5 L179.6,711.5 L176.6,710.5Z" fill="#e63946" stroke="#3a2a2e" stroke-width="0.6" stroke-linejoin="round"/>
<path d="M102.8,622.8 L105.8,621.4 L108.8,624.8 L112.8,627.8 L116.8,630.2 L111.8,631.8 L107.8,627.8 L103.8,625.8Z" fill="#e63946" stroke="#3a2a2e" stroke-width="0.6" stroke-linejoin="round"/>
<path d="M113.8,664.7 L118.8,663.3 L122.8,665.7 L122.2,669.3 L117.8,668.7Z" fill="#e63946" stroke="#3a2a2e" stroke-width="0.6" stroke-linejoin="round"/>
<path d="M44,729.5 L51,729.9 L57.9,733.5 L57,734.5 L50,731.9Z" fill="#e63946" stroke="#3a2a2e" stroke-width="0.6" stroke-linejoin="round"/>
<path d="M84.9,733.5 L89.9,729.9 L97.8,729.5 L103.8,727.5 L108.8,726.5 L107.8,728.5 L99.8,731.1 L91.9,732.5 L85.9,734.5Z" fill="#e63946" stroke="#3a2a2e" stroke-width="0.6" stroke-linejoin="round"/>
<path d="M68.9,733.1 L70.9,733.1 L70.9,734.1 L68.9,734.1Z" fill="#e63946" stroke="#3a2a2e" stroke-width="0.6" stroke-linejoin="round"/>
<path d="M77.9,732.1 L79.9,732.1 L79.9,733.1 L77.9,733.1Z" fill="#e63946" stroke="#3a2a2e" stroke-width="0.6" stroke-linejoin="round"/>
<path d="M86.3,650.7 L87.9,651.7 L89.5,654.7 L87.9,653.7Z" fill="#e63946" stroke="#3a2a2e" stroke-width="0.6" stroke-linejoin="round"/>
<path d="M166.6,721.5 L169.2,720.7 L169.6,723.1 L167.2,723.5Z" fill="#e63946" stroke="#3a2a2e" stroke-width="0.6" stroke-linejoin="round"/>
<path d="M276.3,696.6 L289.3,707.5 L297.3,721.5 L301.3,731.5" fill="none" stroke="#fff" stroke-width="0.9"/>
<path d="M282.3,687.6 L295.3,705.6 L307.2,721.5 L310.2,728.5" fill="none" stroke="#fff" stroke-width="0.9"/>
<path d="M285.3,703.6 L291.3,713.5" fill="none" stroke="#fff" stroke-width="0.9"/>
<path d="M480.8,706.2 L493.2,709 L503.1,720.3 L500.3,726.7 L484.4,736.3 L479.8,730.9 L480.8,720.3 L476.3,715Z" fill="#2395e3" stroke="#3a2a2e" stroke-width="0.6" stroke-linejoin="round"/>
<path d="M462.1,689.2 L470.2,688.5 L476.3,693.8 L472,698.1 L465.6,695.6Z" fill="#2395e3" stroke="#3a2a2e" stroke-width="0.6" stroke-linejoin="round"/>
<path d="M448,684.3 L459.6,685 L454.3,687.8Z" fill="#2395e3" stroke="#3a2a2e" stroke-width="0.6" stroke-linejoin="round"/>
<path d="M453.6,692.1 L458.6,692.8 L456.1,695.6Z" fill="#2395e3" stroke="#3a2a2e" stroke-width="0.6" stroke-linejoin="round"/>
<path d="M427.8,676.1 L432.4,673.7 L440.2,681.4 L431.3,682.1Z" fill="#2395e3" stroke="#3a2a2e" stroke-width="0.6" stroke-linejoin="round"/>
<path d="M394.9,663.8 L401.3,661.6 L405.5,665.5 L401.3,669.4 L396,668Z" fill="#2395e3" stroke="#3a2a2e" stroke-width="0.6" stroke-linejoin="round"/>
<path d="M384.7,668 L388.9,666.6 L386.4,670.8Z" fill="#2395e3" stroke="#3a2a2e" stroke-width="0.6" stroke-linejoin="round"/>
<!-- map2 -->
<clipPath id="c2"><path d="M211.4,761.3 L220.2,767.7 L239.7,774.8 L241.4,767.7 L248.5,765.9 L252.1,776.5 L246.7,797.7 L250.3,785.4 L253.8,769.4 L276.8,776.5 L305.1,790.7 L329.8,808.3 L347.5,824.3 L358.1,836.6 L372.3,856.1 L390,873.8 L411.2,886.1 L435.9,895 L467.8,898.5 L485.4,898.5 L506.6,896.7 L531.4,891.4 L549.1,884.4 L563.2,875.5 L577.8,861.4 L599,849 L614.9,840.2 L618.5,838.4 L620.2,846.2 L641.4,838.4 L662.7,834.9 L683.9,827.8 L705.1,820.7 L721,816.5 L703.2,827.6 L685.3,839.5 L669.5,849.4 L655.6,858.3 L667.5,853.4 L679.4,849.4 L683.4,847.4 L680.4,852.4 L687.3,847.4 L694.3,841.5 L689.3,848.4 L692.3,850.4 L699.2,846.4 L711.1,839.5 L723,831.6 L734.9,824.7 L746.7,817.7 L756.6,813.4 L763.6,812.2 L756.6,816.7 L748.7,822.7 L742.8,828.6 L750.7,824.7 L758.6,822.7 L766.5,824.1 L770.5,827.2 L782.4,822.7 L794.3,816.7 L806.1,813.4 L818,809.8 L825,808.8 L825,813.8 L835.8,810.8 L845.7,809.8 L845.7,815.7 L852.7,818.7 L858.6,817.7 L860.6,820.1 L853.7,821.3 L843.8,822.7 L832.9,824.1 L828.9,826.6 L837.8,827.6 L849.7,828.6 L860.6,830.6 L865.5,834.6 L867.1,841.5 L865.5,849.4 L861.6,857.3 L855.6,864.3 L849.7,869.2 L849.3,872.8 L854.7,872.8 L860.6,867.2 L865.5,860.3 L872.5,856.3 L878.4,857.3 L882.4,865.2 L884.4,877.1 L883.4,889 L879.4,896.9 L876.4,895 L874.5,900.9 L869.5,910.8 L865.5,916.7 L860.6,922.3 L873.5,918.7 L875.4,924.7 L883.4,921.7 L891.3,914.8 L900,906.8 L913.7,896.7 L924.6,886.1 L938.8,870.2 L935.2,856.1 L945.8,843.7 L970.6,836.6 L995.3,834.9 L1005.9,829.6 L995.3,817.2 L1007.7,803 L1030.7,788.9 L1055.4,782.5 L1083.7,781.8 L1115.6,788.2 L1140.3,794.2 L1159.8,795.3 L1166.8,792.4 L1181,797.7 L1178.5,773 L1182.7,771.9 L1195.1,775.5 L1207.5,785.4 L1225.2,803 L1248.2,820.7 L1232.2,822.5 L1214.6,824.3 L1211,829.6 L1221.6,838.4 L1234,852.5 L1237.6,863.2 L1235.8,872 L1249.9,879.1 L1262.3,891.4 L1271.1,905.6 L1278.2,923.3 L1283.5,933.9 L1281.8,944.5 L1276.4,958.6 L1269.4,948 L1267.6,962.2 L1258.8,976.3 L1260.5,986.9 L1246.4,994 L1232.2,1002.8 L1221.6,999.3 L1207.5,994 L1193.3,986.9 L1186.3,983.4 L1189.8,990.5 L1207.5,997.5 L1221.6,1011.7 L1223.9,1011.3 L1229.5,1025.5 L1230.9,1039.6 L1225.3,1053.7 L1216.8,1065.1 L1208.3,1073.6 L1197,1075 L1192.8,1073.6 L1201.2,1080.6 L1204.8,1086.3 L1204.1,1090.5 L1199.8,1097.6 L1194.2,1100.4 L1187.1,1102.5 L1189.9,1104.7 L1184.3,1111.7 L1178.6,1116 L1171.5,1118.1 L1173,1120.2 L1181.4,1124.5 L1187.1,1130.1 L1192.8,1137.2 L1196.3,1144.3 L1197,1149.9 L1193.7,1146 L1183.1,1156.6 L1165.4,1169 L1147.8,1181.3 L1126.5,1195.5 L1105.3,1199 L1091.2,1211.4 L1073.5,1218.5 L1055.8,1225.5 L1041.7,1236.1 L1038.1,1248.5 L1052.3,1259.1 L1070,1273.3 L1091.2,1290.9 L1105.3,1308.6 L1117.7,1329.8 L1120.2,1347.5 L1112.4,1368.7 L1098.2,1388.2 L1077,1400.6 L1055.8,1407.6 L1034.6,1409.4 L1020.5,1404.1 L999.2,1397 L985.1,1393.5 L967.4,1384.7 L956.8,1377.6 L942.7,1365.2 L928.5,1352.8 L921.4,1340.5 L928.5,1329.8 L935.6,1319.2 L921.4,1315.7 L903.8,1308.6 L889.6,1293.8 L879,1298 L861.3,1312.2 L843.6,1308.6 L833,1298 L822.7,1290.7 L808.5,1282.9 L794.4,1280.1 L783.1,1280.1 L773.2,1275.9 L766.1,1272.3 L764,1269.5 L757.6,1262.4 L755.5,1254.7 L756.9,1263.1 L761.1,1270.2 L759,1268.1 L751.9,1263.1 L746.3,1259.6 L740.6,1257.5 L735,1258.2 L730.7,1262.4 L729.3,1265.3 L733.6,1266.7 L737.1,1268.8 L739.2,1275.2 L735.7,1275.2 L737.8,1280.8 L743.5,1283.6 L749.1,1286.5 L752.6,1290.7 L751.9,1294.3 L746.3,1295.7 L744.2,1290.7 L739.2,1286.5 L733.6,1280.8 L730.7,1285.1 L725.8,1289.3 L720.8,1286.5 L713.7,1287.2 L706.7,1282.2 L699.6,1278 L701,1275.2 L695.4,1270.9 L690.4,1270.2 L686.2,1266.7 L681.2,1264.6 L662.9,1260.9 L643.4,1255.6 L631.1,1257.4 L620.5,1264.4 L599.2,1273.3 L585.1,1282.1 L578,1294.5 L579.8,1312.2 L583.3,1329.8 L578,1331.6 L556.8,1322.8 L535.6,1310.4 L525,1290.9 L514.4,1266.2 L503.8,1245 L493.2,1222 L482.5,1206.1 L468.4,1200.8 L463.1,1206.1 L454.3,1220.2 L445.4,1209.6 L433,1188.4 L427.7,1163.6 L420.7,1128.3 L418.9,1100 L418.2,1090.2 L411.2,1098.3 L400.6,1103.6 L393.5,1114.2 L379.3,1123.1 L354.6,1131.9 L329.8,1126.6 L294.5,1131.9 L294.5,1126.6 L269.7,1133.7 L241.4,1137.2 L216.7,1140 L209.6,1137.2 L207.9,1119.5 L193.7,1107.1 L190.2,1100.1 L170.7,1096.5 L149.5,1082.4 L133.6,1071.8 L135.4,1050.6 L130.1,1032.9 L123,1011.7 L124.8,997.5 L117.7,976.3 L119.4,962.2 L114.1,942.7 L124.8,919.7 L123,902.1 L135.4,886.1 L153,868.5 L161.9,856.1 L172.5,850.8 L177.8,845.5 L191.9,838.4 L206.1,826 L213.2,808.3 L212.4,785.4 L210.3,767.7Z"/></clipPath>
<g clip-path="url(#c2)">
<rect x="80" y="750" width="1300" height="700" fill="#e63946"/>
<path d="M199,750 L253.8,757.1 L276.8,774.8 L305.1,788.9 L329.8,806.6 L347.5,822.5 L358.1,836.6 L363.4,852.5 L364.5,873.8 L347.5,866.7 L312.2,852.5 L276.8,840.2 L248.5,831.3 L230.8,824.3 L229.1,817.2 L222,813.6 L213.2,808.3 L199,808.3Z" fill="#2395e3" stroke="#3a2a2e" stroke-width="0.8" stroke-linejoin="round"/>
<path d="M199,808.3 L213.2,808.3 L222,813.6 L229.1,817.2 L230.8,824.3 L248.5,831.3 L276.8,840.2 L312.2,852.5 L347.5,866.7 L364.5,873.8 L367,880.8 L354.6,887.9 L351.1,905.6 L340.5,903.8 L326.3,898.5 L312.2,891.4 L301.6,882.6 L276.8,870.2 L241.4,857.9 L206.1,850.1 L172.5,850.8 L153,856.1Z" fill="#7fc6f6" stroke="#3a2a2e" stroke-width="0.8" stroke-linejoin="round"/>
<path d="M153,856.1 L172.5,850.8 L206.1,850.1 L241.4,857.9 L276.8,870.2 L301.6,882.6 L313.9,895 L316.8,907.4 L312.2,919.7 L303.3,928.6 L299.1,931.4 L322.8,942.7 L340.5,962.2 L349.3,983.4 L352.8,1011.7 L350.4,1032.9 L344,1057.6 L329.8,1085.9 L315.7,1110.7 L294.5,1126.6 L294.5,1149.9 L100,1149.9 L100,856.1Z" fill="#2395e3" stroke="#3a2a2e" stroke-width="0.8" stroke-linejoin="round"/>
<path d="M312.2,891.4 L326.3,898.5 L340.5,903.8 L351.1,905.6 L379.3,912 L372.3,948 L367,976.3 L361.7,994 L359.2,988.7 L356.4,1004.6 L354.6,1018.7 L352.8,1011.7 L349.3,983.4 L340.5,962.2 L322.8,942.7 L299.1,931.4 L303.3,928.6 L312.2,919.7 L316.8,907.4 L313.9,895Z" fill="#f4a5ab" stroke="#3a2a2e" stroke-width="0.8" stroke-linejoin="round"/>
<path d="M367,976.3 L382.9,982.7 L404.1,993.3 L417.2,1008.1 L414.7,1040 L407.6,1068.2 L398.8,1096.5 L391.7,1114.2 L379.3,1126.6 L354.6,1135.4 L329.8,1130.1 L290.9,1135.4 L294.5,1126.6 L315.7,1110.7 L329.8,1085.9 L344,1057.6 L350.4,1032.9 L352.8,1011.7 L354.6,1018.7 L356.4,1004.6 L359.2,988.7 L361.7,994Z" fill="#f4a5ab" stroke="#3a2a2e" stroke-width="0.8" stroke-linejoin="round"/>
<path d="M428.9,922.2 L453.6,923.3 L474.8,930.3 L502.1,942.7 L497.8,976.3 L490.7,1004.6 L471.3,1011.7 L457.1,1022.3 L439.5,1025.1 L425.3,1018.7 L418.2,1009.9 L417.2,990.5 L420,955.1 L423.6,933.9Z" fill="#7fc6f6" stroke="#3a2a2e" stroke-width="0.8" stroke-linejoin="round"/>
<path d="M417.2,1008.1 L418.2,1009.9 L425.3,1018.7 L439.5,1025.1 L457.1,1022.3 L466,1017 L453.6,1043.5 L450.1,1068.2 L451.8,1096.5 L453.6,1112.4 L444.8,1100.1 L432.4,1091.2 L418.2,1090.2 L411.2,1100.1 L400.6,1105.4 L391.7,1117.8 L398.8,1096.5 L407.6,1068.2 L414.7,1040Z" fill="#7fc6f6" stroke="#3a2a2e" stroke-width="0.8" stroke-linejoin="round"/>
<path d="M553,891.4 L560.1,872 L577.8,857.9 L599,845.5 L616.7,834.9 L641.4,834.9 L662.7,831.3 L683.9,824.3 L705.1,817.2 L724.5,813.6 L703.2,827.6 L685.3,839.5 L669.5,849.4 L655.6,858.3 L649.7,863.3 L643.8,871.2 L637.8,879.1 L628.9,886 L630.9,891 L625,900.9 L624,903.9 L635.8,906.8 L643.8,910.8 L649.7,913.8 L648.7,918.7 L646.7,924.7 L646.7,918.7 L620,924.7 L570.7,927.9 L549.5,926.8 L548.8,909.1Z" fill="#7fc6f6" stroke="#3a2a2e" stroke-width="0.8" stroke-linejoin="round"/>
<path d="M655.6,858.3 L667.5,853.4 L679.4,849.4 L683.4,847.4 L680.4,852.4 L687.3,847.4 L694.3,841.5 L689.3,848.4 L692.3,850.4 L695.2,855.3 L713.1,855 L730.9,854.4 L742.8,853.4 L749.7,856.3 L748.7,861.3 L752.7,865.2 L754.7,868.2 L770.5,857.3 L778.4,857.3 L778.4,914.4 L746.7,914.4 L723,915.1 L699.2,917.7 L669.5,922.7 L647.7,928.6 L646.7,924.7 L648.7,918.7 L649.7,913.8 L643.8,910.8 L635.8,906.8 L624,903.9 L625,900.9 L630.9,891 L628.9,886 L637.8,879.1 L643.8,871.2 L649.7,863.3 L655.6,858.3Z" fill="#f4a5ab" stroke="#3a2a2e" stroke-width="0.8" stroke-linejoin="round"/>
<path d="M692.3,850.4 L699.2,846.4 L711.1,839.5 L723,831.6 L734.9,824.7 L746.7,817.7 L756.6,813.4 L763.6,812.2 L756.6,816.7 L748.7,822.7 L742.8,828.6 L750.7,824.7 L758.6,822.7 L766.5,824.1 L770.5,827.2 L782.4,822.7 L794.3,816.7 L806.1,813.4 L818,809.8 L825,808.8 L825,813.8 L835.8,810.8 L845.7,809.8 L845.7,815.7 L852.7,818.7 L858.6,817.7 L860.6,820.1 L853.7,821.3 L843.8,822.7 L832.9,824.1 L828.9,826.6 L798.2,841.5 L770.5,857.3 L754.7,868.2 L752.7,865.2 L748.7,861.3 L749.7,856.3 L742.8,853.4 L730.9,854.4 L713.1,855 L695.2,855.3 L692.3,850.4Z" fill="#f4a5ab" stroke="#3a2a2e" stroke-width="0.8" stroke-linejoin="round"/>
<path d="M828.9,826.6 L837.8,827.6 L849.7,828.6 L860.6,830.6 L865.5,834.6 L867.1,841.5 L865.5,849.4 L861.6,857.3 L855.6,864.3 L849.7,869.2 L849.3,872.8 L854.7,872.8 L860.6,867.2 L865.5,860.3 L872.5,856.3 L878.4,857.3 L882.4,865.2 L884.4,877.1 L883.4,889 L879.4,896.9 L876.4,895 L874.5,900.9 L869.5,910.8 L865.5,916.7 L860.6,922.3 L837.8,927.6 L817,933 L798.2,936.5 L776.4,936.5 L758.6,938.1 L756.6,908.8 L778.4,865.2 L808.1,837.5Z" fill="#f4a5ab" stroke="#3a2a2e" stroke-width="0.8" stroke-linejoin="round"/>
<path d="M647.7,928.6 L669.5,922.7 L699.2,917.7 L723,915.1 L746.7,914.4 L762.6,914.4 L762.6,938.5 L755.6,938.5 L752.8,962.2 L754.6,997.5 L753.9,1029.3 L756.4,1047 L747.5,1061.2 L744,1075.3 L742.2,1089.5 L729.8,1093 L728.1,1100.1 L712.2,1096.5 L703.3,1100.1 L692.7,1094.8 L687.4,1082.4 L673.3,1071.8 L660.9,1057.6 L666.2,1041.7 L653.8,1038.2 L641.4,1018.7 L630.8,1001.1 L627.3,983.4 L629.1,971 L637.9,962.2 L636.1,953.3 L649.7,947.4 L662.6,942.5 L664.6,936.5 L653.7,931.6Z" fill="#7fc6f6" stroke="#3a2a2e" stroke-width="0.8" stroke-linejoin="round"/>
<path d="M914,896.7 L924.6,886.1 L931.7,898.5 L949.4,907.4 L984.7,912.7 L1030.7,910.9 L1071.4,907.4 L1087.3,921.5 L1106.7,923.3 L1094.3,937.4 L1089,946.3 L1094.3,955.1 L1092.6,962.2 L1099.6,972.8 L1112,981.6 L1133.2,994 L1150.2,1001.8 L1122.6,1001.1 L1117.3,1006.4 L1097.9,1004.6 L1080.2,1008.1 L1055.4,1004.6 L1034.2,1006.4 L1013,1013.4 L991.8,1018.7 L970.6,1020.5 L967,1025.8 L947.6,1028.6 L931.7,962.2Z" fill="#f4a5ab" stroke="#3a2a2e" stroke-width="0.8" stroke-linejoin="round"/>
<path d="M914,896.7 L917.5,866.7 L928.1,838.4 L984.7,813.6 L1020.1,781.8 L1083.7,776.5 L1115.6,785.4 L1140.3,792.4 L1159.8,795.3 L1154.5,806.6 L1152.7,824.3 L1158,836.6 L1182.7,836.6 L1204,838.4 L1221.6,838.4 L1303,856.1 L1303,1009.9 L1196.9,1009.9 L1186.3,983.4 L1186.3,976.3 L1161.5,951.6 L1133.2,933.9 L1106.7,923.3 L1087.3,921.5 L1071.4,907.4 L1030.7,910.9 L984.7,912.7 L949.4,907.4 L931.7,898.5 L924.6,886.1Z" fill="#2395e3" stroke="#3a2a2e" stroke-width="0.8" stroke-linejoin="round"/>
<path d="M1159.8,795.3 L1166.8,790.7 L1179.2,796 L1175.7,769.4 L1196.9,771.2 L1253.5,820.7 L1232.2,824.3 L1214.6,825.3 L1212.1,829.6 L1221.6,838.4 L1204,838.4 L1182.7,836.6 L1158,836.6 L1152.7,824.3 L1154.5,806.6Z" fill="#7fc6f6" stroke="#3a2a2e" stroke-width="0.8" stroke-linejoin="round"/>
<path d="M1106.7,923.3 L1133.2,933.9 L1161.5,951.6 L1186.3,976.3 L1186.3,983.4 L1189.8,990.5 L1207.5,997.5 L1221.6,1011.7 L1249.9,1009.9 L1249.9,1068.2 L1212.8,1073.6 L1196.9,1077.1 L1189.8,1071.8 L1181.4,1070.7 L1164.5,1066.5 L1153.2,1058 L1141.8,1049.5 L1130.5,1041 L1119.2,1031.1 L1110.7,1021.2 L1107.9,1017 L1109.3,1011.3 L1106.5,1004.2 L1097.9,1004.6 L1117.3,1006.4 L1122.6,1001.1 L1150.2,1001.8 L1133.2,994 L1112,981.6 L1099.6,972.8 L1092.6,962.2 L1094.3,955.1 L1089,946.3 L1094.3,937.4Z" fill="#7fc6f6" stroke="#3a2a2e" stroke-width="0.8" stroke-linejoin="round"/>
<path d="M970.6,1020.5 L991.8,1018.7 L1013,1013.4 L1034.2,1006.4 L1055.4,1004.6 L1080.2,1008.1 L1097.9,1004.6 L1106.5,1004.2 L1109.3,1011.3 L1107.9,1017 L1113.6,1021.2 L1120.6,1026.9 L1131.9,1035.4 L1144.7,1045.3 L1156,1053.7 L1167.3,1062.2 L1173,1064.4 L1180,1064.4 L1187.1,1066.5 L1192.1,1069.3 L1192.8,1073.6 L1201.2,1080.6 L1206.9,1086.3 L1206.2,1091.9 L1199.8,1099 L1194.2,1101.1 L1187.1,1102.1 L1175.8,1103.3 L1165.9,1105.4 L1161.6,1104.7 L1153.2,1106.1 L1144.7,1104.7 L1136.2,1101.8 L1124.9,1100.4 L1113.6,1097.6 L1102.2,1093.4 L1090.9,1089.1 L1079.6,1084.9 L1068.3,1080.6 L1062.6,1076.4 L1061.2,1072.1 L1068.3,1073.6 L1075.4,1072.1 L1078.2,1070.7 L1073.9,1065.1 L1072.5,1060.8 L1071.8,1057.3 L1059.1,1048.8 L1057,1049.5 L1047.1,1048.8 L1040,1046.7 L1034.2,1045.3 L1030.7,1036.4 L1023.6,1034.7 L1023.6,1041.7 L1014.8,1020.5 L1007.7,1024 L1002.4,1031.1 L995.3,1031.1 L990,1038.2 L974.1,1045.3Z" fill="#2395e3" stroke="#3a2a2e" stroke-width="0.8" stroke-linejoin="round"/>
<path d="M1023.6,1041.7 L1034.2,1045.3 L1040,1046.7 L1047.1,1048.8 L1057,1049.5 L1059.1,1048.8 L1071.8,1057.3 L1072.5,1060.8 L1073.9,1065.1 L1078.2,1070.7 L1075.4,1072.1 L1068.3,1073.6 L1061.2,1072.1 L1062.6,1076.4 L1068.3,1080.6 L1079.6,1084.9 L1090.9,1089.1 L1102.2,1093.4 L1113.6,1097.6 L1124.9,1100.4 L1136.2,1101.8 L1144.7,1104.7 L1151.7,1111.7 L1154.6,1117.4 L1163.1,1118.8 L1173,1120.2 L1184.3,1123.1 L1184.3,1127.3 L1153.2,1128 L1110.7,1128.7 L1055.4,1124.8 L984.7,1114.2 L938.8,1107.1 L938.5,1107.1 L873.1,1102.9 L896,1094.8 L924.3,1080.6 L934.9,1084.2 L963.2,1075.3 L970.3,1061.2 L988,1055.9 L1000,1040 L1005.9,1043.5 L1011.2,1036.4Z" fill="#7fc6f6" stroke="#3a2a2e" stroke-width="0.8" stroke-linejoin="round"/>
<path d="M1161.6,1105 L1165.9,1105.4 L1175.8,1103.3 L1187.1,1102.1 L1192.1,1104.7 L1185.7,1113.2 L1179.3,1117.4 L1171.5,1119.5 L1165.9,1116 L1162.3,1111.7Z" fill="#7fc6f6" stroke="#3a2a2e" stroke-width="0.8" stroke-linejoin="round"/>
<path d="M1204.3,1121.2 L1133.6,1127.6 L1080.6,1121.2 L1027.5,1114.1 L974.5,1109.9 L939.1,1108.8 L932.1,1115.9 L914.4,1119.4 L896.7,1128.3 L879,1131.8 L864.9,1135.4 L857.8,1142.4 L857.1,1147.7 L896.7,1151.3 L925,1147.7 L967.4,1153 L992.2,1161.9 L1041.7,1170.7 L1105.3,1199 L1133.6,1202.5 L1222,1153Z" fill="#f4a5ab" stroke="#3a2a2e" stroke-width="0.8" stroke-linejoin="round"/>
<path d="M811.8,1151.3 L857.1,1147.7 L896.7,1152.3 L914.4,1161.9 L935.6,1174.3 L970.9,1195.5 L1009.8,1213.2 L1041.7,1230.8 L1048.7,1236.1 L1045.2,1248.5 L993.9,1248.5 L993.9,1257.4 L986.9,1259.1 L983.3,1253.8 L921.4,1255.6 L856,1256.3 L845.4,1245 L838.3,1234.4 L833,1222 L840.1,1214.9 L831.3,1199 L818.9,1170.7Z" fill="#f4a5ab" stroke="#3a2a2e" stroke-width="0.8" stroke-linejoin="round"/>
<path d="M379.3,912 L415.8,916.2 L422.5,916.2" fill="none" stroke="#3a2a2e" stroke-width="0.8" stroke-linejoin="round"/>
<path d="M363.4,849 L375.8,866.7 L388.2,882.6 L400.6,895 L420,902.8 L476.6,914.4 L485.4,899.2" fill="none" stroke="#3a2a2e" stroke-width="0.8" stroke-linejoin="round"/>
<path d="M420,902.8 L422.5,916.2 L415.8,924 L428.9,922.2" fill="none" stroke="#3a2a2e" stroke-width="0.8" stroke-linejoin="round"/>
<path d="M476.6,914.4 L473.1,926.8 L474.8,930.3" fill="none" stroke="#3a2a2e" stroke-width="0.8" stroke-linejoin="round"/>
<path d="M476.6,914.4 L545.5,905.6" fill="none" stroke="#3a2a2e" stroke-width="0.8" stroke-linejoin="round"/>
<path d="M473.1,919.7 L534.9,926.8 L547.3,932.1" fill="none" stroke="#3a2a2e" stroke-width="0.8" stroke-linejoin="round"/>
<path d="M502.1,956.9 L542,965.7 L563.2,979.8" fill="none" stroke="#3a2a2e" stroke-width="0.8" stroke-linejoin="round"/>
<path d="M497.8,994 L524.3,1004.6 L559.7,1025.8 L582.7,1043.5 L584.8,1043.5" fill="none" stroke="#3a2a2e" stroke-width="0.8" stroke-linejoin="round"/>
<path d="M467.8,1015.2 L489,1011.7 L520.8,1017 L520.1,1068.2" fill="none" stroke="#3a2a2e" stroke-width="0.8" stroke-linejoin="round"/>
<path d="M367,976.3 L382.9,982.7 L404.1,993.3 L417.2,1008.1" fill="none" stroke="#3a2a2e" stroke-width="0.8" stroke-linejoin="round"/>
<path d="M549.5,926.8 L553,948 L560.1,969.2 L569,990.5 L577.8,1004.6 L584.9,1043.5 L599,1085.9 L609.6,1117.8 L622,1139 L623.8,1149.9" fill="none" stroke="#3a2a2e" stroke-width="0.8" stroke-linejoin="round"/>
<path d="M560.1,969.2 L623.8,972.1 L629.1,971" fill="none" stroke="#3a2a2e" stroke-width="0.8" stroke-linejoin="round"/>
<path d="M520.2,1068.2 L535.4,1078.9 L556.6,1093 L581.3,1107.1 L606.1,1121.3 L622,1139" fill="none" stroke="#3a2a2e" stroke-width="0.8" stroke-linejoin="round"/>
<path d="M595.5,1068.2 L641.4,1093 L673.3,1103.6 L676.8,1110.7 L671.5,1116 L687.4,1114.2" fill="none" stroke="#3a2a2e" stroke-width="0.8" stroke-linejoin="round"/>
<path d="M703.3,1100.1 L692.7,1107.1 L687.4,1114.2 L682.1,1128.4 L676.8,1149.9" fill="none" stroke="#3a2a2e" stroke-width="0.8" stroke-linejoin="round"/>
<path d="M703.3,1105.4 L740.5,1110.7 L744,1107.1 L818.2,1103.6 L873.1,1102.9" fill="none" stroke="#3a2a2e" stroke-width="0.8" stroke-linejoin="round"/>
<path d="M938.5,1107.1 L924.3,1117.8 L899.6,1124.8 L874.8,1133.7 L857.1,1142.5" fill="none" stroke="#3a2a2e" stroke-width="0.8" stroke-linejoin="round"/>
<path d="M758.6,938.1 L776.4,936.5 L798.2,936.5 L817,933 L837.8,927.6 L860.6,922.3" fill="none" stroke="#3a2a2e" stroke-width="0.8" stroke-linejoin="round"/>
<path d="M816.5,933.2 L820,997.5 L825.3,1043.5 L825.3,1054.1 L812.9,1055.9 L804.1,1068.2 L790,1073.6 L775.8,1078.9 L761.7,1077.1 L747.5,1077.1 L744,1082.4" fill="none" stroke="#3a2a2e" stroke-width="0.8" stroke-linejoin="round"/>
<path d="M827.1,1045.3 L839.5,1050.6 L853.6,1057.6 L871.3,1061.2 L889,1061.2 L903.1,1068.2 L913.7,1064.7 L920.8,1052.3 L933.2,1041.7 L943.8,1029.3 L934.9,979.8 L924.3,940.9 L913.7,896.7" fill="none" stroke="#3a2a2e" stroke-width="0.8" stroke-linejoin="round"/>
<path d="M903.1,1068.2 L924.3,1078.9 L934.9,1084.2 L963.2,1075.3 L970.3,1061.2 L988,1055.9 L1000,1040" fill="none" stroke="#3a2a2e" stroke-width="0.8" stroke-linejoin="round"/>
<path d="M947.6,1028.6 L967,1025.8 L970.6,1020.5 L974.1,1045.3 L990,1038.2 L995.3,1031.1 L1002.4,1031.1 L1007.7,1024 L1014.8,1020.5 L1023.6,1041.7 L1011.2,1036.4 L1005.9,1043.5 L988.3,1057.6 L974.1,1061.2 L967,1080.6 L949.4,1080.6 L935.2,1084.2 L914,1077.1" fill="none" stroke="#3a2a2e" stroke-width="0.8" stroke-linejoin="round"/>
<path d="M1115.6,788.2 L1129.7,803 L1135,819 L1138.5,831.3 L1140.3,845.5 L1142.1,873.8 L1147.4,898.5 L1161.5,926.8 L1177.4,948 L1193.3,972.8" fill="none" stroke="#3a2a2e" stroke-width="0.8" stroke-linejoin="round"/>
<path d="M1140.3,845.5 L1147.4,838.4 L1158,836.6" fill="none" stroke="#3a2a2e" stroke-width="0.8" stroke-linejoin="round"/>
<path d="M1147.4,898.5 L1182.7,902.1 L1221.6,902.1 L1237.6,901.3 L1267.6,948" fill="none" stroke="#3a2a2e" stroke-width="0.8" stroke-linejoin="round"/>
<path d="M1221.6,902.1 L1253.5,976.3" fill="none" stroke="#3a2a2e" stroke-width="0.8" stroke-linejoin="round"/>
<path d="M1181,797.7 L1196.9,820.7 L1214.6,838.4" fill="none" stroke="#3a2a2e" stroke-width="0.8" stroke-linejoin="round"/>
<path d="M1096.6,1007.1 L1102.2,1018.4 L1113.6,1035.4 L1127.7,1053.7 L1141.8,1069.3 L1157.4,1084.9 L1204.1,1086.3" fill="none" stroke="#3a2a2e" stroke-width="0.8" stroke-linejoin="round"/>
<path d="M562.1,1100 L578,1107.1 L592.2,1110.6 L606.3,1121.2 L620.5,1133.6 L624,1149.5 L627.5,1177.8 L641.7,1209.6 L645.2,1230.8 L643.4,1255.6" fill="none" stroke="#3a2a2e" stroke-width="0.8" stroke-linejoin="round"/>
<path d="M602.8,1100 L611.6,1126.5" fill="none" stroke="#3a2a2e" stroke-width="0.8" stroke-linejoin="round"/>
<path d="M624,1149.5 L655.8,1160.1 L677,1170.7" fill="none" stroke="#3a2a2e" stroke-width="0.8" stroke-linejoin="round"/>
<path d="M691.2,1107.1 L680.6,1128.3 L675.3,1149.5 L677,1170.7 L687.6,1188.4 L684.1,1213.2 L685.9,1225.5" fill="none" stroke="#3a2a2e" stroke-width="0.8" stroke-linejoin="round"/>
<path d="M685.5,1220 L686.2,1225.7 L702.4,1227.8 L722.2,1234.1 L723.6,1241.2 L727.9,1248.3 L732.1,1258.2" fill="none" stroke="#3a2a2e" stroke-width="0.8" stroke-linejoin="round"/>
<path d="M682.3,1141.7 L737.1,1154.8 L811.4,1151.3" fill="none" stroke="#3a2a2e" stroke-width="0.8" stroke-linejoin="round"/>
<path d="M737.1,1154.8 L737.1,1206.1 L738.6,1220.2" fill="none" stroke="#3a2a2e" stroke-width="0.8" stroke-linejoin="round"/>
<path d="M738.5,1220 L744.9,1241.2 L750.5,1261" fill="none" stroke="#3a2a2e" stroke-width="0.8" stroke-linejoin="round"/>
<path d="M673.5,1115.9 L691.2,1107.1 L740.7,1110.6 L742.4,1106.4 L880,1103.5" fill="none" stroke="#3a2a2e" stroke-width="0.8" stroke-linejoin="round"/>
<path d="M773.2,1275.9 L773.2,1270.9 L769.6,1262.4 L767.5,1256.8 L760.4,1248.3 L759.7,1243.3 L761.8,1239.8 L780.2,1238.1 L801.4,1239.1 L822.7,1241.2 L846.7,1245.5" fill="none" stroke="#3a2a2e" stroke-width="0.8" stroke-linejoin="round"/>
<path d="M780,1239 L822.4,1240.7 L845.4,1245" fill="none" stroke="#3a2a2e" stroke-width="0.8" stroke-linejoin="round"/>
<path d="M780,1153.7 L811.8,1151.3" fill="none" stroke="#3a2a2e" stroke-width="0.8" stroke-linejoin="round"/>
<path d="M896.7,1153 L914.4,1161.9 L935.6,1174.3 L970.9,1195.5 L1009.8,1213.2 L1041.7,1230.8" fill="none" stroke="#3a2a2e" stroke-width="0.8" stroke-linejoin="round"/>
<path d="M1059.1,1048.8 L1065.5,1044.6 L1085,1056.6 L1081,1063.6 L1076.1,1065.3 L1072.5,1060.8 L1071.8,1057.3Z" fill="#0f4c75" stroke="#3a2a2e" stroke-width="0.6"/>
<path d="M828.9,826.6 L818,828.6 L808.1,831.6 L798.2,836.5 L790.3,840.5 L784.4,843.5 L778.4,849.4 L772.5,848.4 L770.5,853.4 L764.6,858.3 L758.6,864.3 L750.7,871.2 L743.8,877.1 L742.8,879.1 L748.7,876.1 L756.6,871.2 L764.6,865.2 L772.5,858.3 L766.5,865.2 L758.6,873.2 L752.7,881.1 L748.7,889 L744.8,900.9 L746.7,910.8 L750.7,920.7 L754.7,932.6 L758.6,938.1 L766.5,934.6 L772.5,926.6 L776.4,916.7 L777.4,906.8 L774.5,898.9 L770.5,891 L772.5,881.1 L778.4,871.2 L784.4,863.3 L792.3,857.3 L798.2,853.4 L800.2,857.3 L803.2,855.3 L804.2,849.4 L810.1,844.5 L818,839.5 L822,834.6 L827.9,829.6Z" fill="#fff" stroke="#3a2a2e" stroke-width="0.8" stroke-linejoin="round"/>
<path d="M728.5,890 L731.9,886.6 L734.5,888 L732.9,893 L729.9,894Z" fill="#fff" stroke="#3a2a2e" stroke-width="0.8" stroke-linejoin="round"/>
<path d="M1196.9,974.5 L1207.5,972.8 L1218.1,976.3 L1232.2,976.3 L1246.4,974.5 L1258.8,981.6 L1246.4,985.1 L1232.2,986.9 L1218.1,983.4 L1204,979.8Z" fill="#fff" stroke="#3a2a2e" stroke-width="0.8" stroke-linejoin="round"/>
<path d="M1107.9,1017 L1110.7,1021.2 L1119.2,1031.1 L1130.5,1041 L1141.8,1049.5 L1153.2,1058 L1164.5,1066.5 L1174.4,1072.1 L1184.3,1076.4 L1194.2,1077.8 L1201.2,1080.6 L1192.8,1073.6 L1192.1,1069.3 L1187.1,1066.5 L1180,1064.4 L1173,1064.4 L1167.3,1062.2 L1156,1053.7 L1144.7,1045.3 L1131.9,1035.4 L1120.6,1026.9 L1113.6,1021.2 L1110,1017Z" fill="#fff" stroke="#3a2a2e" stroke-width="0.8" stroke-linejoin="round"/>
<path d="M1096.6,1021.2 L1100.8,1028.3 L1100.1,1036.8 L1102.9,1046.7 L1107.9,1056.6 L1113.6,1065.1 L1120.6,1076.4 L1127.7,1086.3 L1136.2,1096.2 L1144.7,1104.7 L1151.7,1111.7 L1154.6,1117.4 L1163.1,1118.8 L1173,1120.2 L1167.3,1113.2 L1163.1,1108.9 L1161.6,1104.7 L1153.2,1106.1 L1147.5,1099 L1141.8,1091.9 L1137.6,1087.7 L1130.5,1079.2 L1123.5,1069.3 L1116.4,1059.4 L1110.7,1050.9 L1105.1,1041 L1102.2,1031.1 L1099.4,1024 L1097.3,1019.8Z" fill="#fff" stroke="#3a2a2e" stroke-width="0.8" stroke-linejoin="round"/>
<path d="M1150.3,1141.4 L1160.2,1139.3 L1173,1136.5 L1181.4,1135.1 L1187.1,1137.9 L1181.4,1139.3 L1173,1140 L1161.6,1142.1 L1153.2,1142.9Z" fill="#fff" stroke="#3a2a2e" stroke-width="0.8" stroke-linejoin="round"/>
<path d="M135.4,976.3 L144.2,971 L145.3,973.5 L138.2,979.8 L135.4,986.2 L131.1,983.4Z" fill="#fff" stroke="#3a2a2e" stroke-width="0.8" stroke-linejoin="round"/>
<path d="M1097.2,1022.9 L1097.3,1022" fill="none" stroke="#0a0a0a" stroke-width="0.8" stroke-linejoin="round"/>
<path d="M1100.5,1023.9 L1106.6,1021.8" fill="none" stroke="#0a0a0a" stroke-width="0.8" stroke-linejoin="round"/>
<path d="M1097.9,1026 L1091.6,1026.4" fill="none" stroke="#0a0a0a" stroke-width="0.8" stroke-linejoin="round"/>
<path d="M1101.1,1027 L1105.6,1025.2" fill="none" stroke="#0a0a0a" stroke-width="0.8" stroke-linejoin="round"/>
<path d="M1098.5,1029.2 L1093.8,1029.2" fill="none" stroke="#0a0a0a" stroke-width="0.8" stroke-linejoin="round"/>
<path d="M1101.7,1030.2 L1104.7,1028.7" fill="none" stroke="#0a0a0a" stroke-width="0.8" stroke-linejoin="round"/>
<path d="M1099.1,1032.4 L1096,1032.1" fill="none" stroke="#0a0a0a" stroke-width="0.8" stroke-linejoin="round"/>
<path d="M1102.3,1033.4 L1111.6,1030.6" fill="none" stroke="#0a0a0a" stroke-width="0.8" stroke-linejoin="round"/>
<path d="M1099.7,1035.5 L1098.2,1034.9" fill="none" stroke="#0a0a0a" stroke-width="0.8" stroke-linejoin="round"/>
<path d="M1100.1,1037.3 L1100.2,1036.6" fill="none" stroke="#0a0a0a" stroke-width="0.8" stroke-linejoin="round"/>
<path d="M1103.5,1037.9 L1109.4,1035.1" fill="none" stroke="#0a0a0a" stroke-width="0.8" stroke-linejoin="round"/>
<path d="M1101.2,1040.4 L1095.3,1041.9" fill="none" stroke="#0a0a0a" stroke-width="0.8" stroke-linejoin="round"/>
<path d="M1104.6,1041 L1109,1038.8" fill="none" stroke="#0a0a0a" stroke-width="0.8" stroke-linejoin="round"/>
<path d="M1102.3,1043.6 L1097.9,1044.5" fill="none" stroke="#0a0a0a" stroke-width="0.8" stroke-linejoin="round"/>
<path d="M1105.7,1044.1 L1108.6,1042.4" fill="none" stroke="#0a0a0a" stroke-width="0.8" stroke-linejoin="round"/>
<path d="M1103.4,1046.7 L1100.5,1047.1" fill="none" stroke="#0a0a0a" stroke-width="0.8" stroke-linejoin="round"/>
<path d="M1106.8,1047.3 L1115.7,1043.4" fill="none" stroke="#0a0a0a" stroke-width="0.8" stroke-linejoin="round"/>
<path d="M1104.5,1049.8 L1103.1,1049.7" fill="none" stroke="#0a0a0a" stroke-width="0.8" stroke-linejoin="round"/>
<path d="M1105.2,1051.7 L1105.5,1051.3" fill="none" stroke="#0a0a0a" stroke-width="0.8" stroke-linejoin="round"/>
<path d="M1108.7,1051.5 L1114.1,1047.8" fill="none" stroke="#0a0a0a" stroke-width="0.8" stroke-linejoin="round"/>
<path d="M1107,1054.5 L1101.8,1057.5" fill="none" stroke="#0a0a0a" stroke-width="0.8" stroke-linejoin="round"/>
<path d="M1110.4,1054.3 L1114.6,1051.5" fill="none" stroke="#0a0a0a" stroke-width="0.8" stroke-linejoin="round"/>
<path d="M1108.8,1057.3 L1104.9,1059.5" fill="none" stroke="#0a0a0a" stroke-width="0.8" stroke-linejoin="round"/>
<path d="M1112.2,1057.2 L1115,1055.2" fill="none" stroke="#0a0a0a" stroke-width="0.8" stroke-linejoin="round"/>
<path d="M1110.6,1060.2 L1108.1,1061.5" fill="none" stroke="#0a0a0a" stroke-width="0.8" stroke-linejoin="round"/>
<path d="M1114,1060 L1122.2,1054.6" fill="none" stroke="#0a0a0a" stroke-width="0.8" stroke-linejoin="round"/>
<path d="M1112.4,1063.1 L1112.7,1062.8" fill="none" stroke="#0a0a0a" stroke-width="0.8" stroke-linejoin="round"/>
<path d="M1115.7,1062.6 L1121,1058.6" fill="none" stroke="#0a0a0a" stroke-width="0.8" stroke-linejoin="round"/>
<path d="M1114.3,1065.6 L1109.4,1069.1" fill="none" stroke="#0a0a0a" stroke-width="0.8" stroke-linejoin="round"/>
<path d="M1117.6,1065.1 L1121.6,1062.1" fill="none" stroke="#0a0a0a" stroke-width="0.8" stroke-linejoin="round"/>
<path d="M1116.1,1068.2 L1112.6,1070.7" fill="none" stroke="#0a0a0a" stroke-width="0.8" stroke-linejoin="round"/>
<path d="M1119.5,1067.6 L1122.2,1065.6" fill="none" stroke="#0a0a0a" stroke-width="0.8" stroke-linejoin="round"/>
<path d="M1118,1070.7 L1115.7,1072.3" fill="none" stroke="#0a0a0a" stroke-width="0.8" stroke-linejoin="round"/>
<path d="M1121.3,1070.2 L1129.2,1064.3" fill="none" stroke="#0a0a0a" stroke-width="0.8" stroke-linejoin="round"/>
<path d="M1119.9,1073.2 L1118.9,1073.9" fill="none" stroke="#0a0a0a" stroke-width="0.8" stroke-linejoin="round"/>
<path d="M1120.8,1074.5 L1121.1,1074.2" fill="none" stroke="#0a0a0a" stroke-width="0.8" stroke-linejoin="round"/>
<path d="M1124.1,1074 L1129.4,1069.9" fill="none" stroke="#0a0a0a" stroke-width="0.8" stroke-linejoin="round"/>
<path d="M1122.7,1077 L1117.9,1080.6" fill="none" stroke="#0a0a0a" stroke-width="0.8" stroke-linejoin="round"/>
<path d="M1126,1076.5 L1130,1073.4" fill="none" stroke="#0a0a0a" stroke-width="0.8" stroke-linejoin="round"/>
<path d="M1124.6,1079.5 L1121,1082.1" fill="none" stroke="#0a0a0a" stroke-width="0.8" stroke-linejoin="round"/>
<path d="M1127.9,1079 L1130.6,1076.9" fill="none" stroke="#0a0a0a" stroke-width="0.8" stroke-linejoin="round"/>
<path d="M1126.5,1082 L1124.2,1083.7" fill="none" stroke="#0a0a0a" stroke-width="0.8" stroke-linejoin="round"/>
<path d="M1129.8,1081.5 L1137.6,1075.5" fill="none" stroke="#0a0a0a" stroke-width="0.8" stroke-linejoin="round"/>
<path d="M1128.4,1084.5 L1127.4,1085.2" fill="none" stroke="#0a0a0a" stroke-width="0.8" stroke-linejoin="round"/>
<path d="M1129.4,1085.9 L1129.7,1085.7" fill="none" stroke="#0a0a0a" stroke-width="0.8" stroke-linejoin="round"/>
<path d="M1132.7,1085.2 L1137.8,1080.9" fill="none" stroke="#0a0a0a" stroke-width="0.8" stroke-linejoin="round"/>
<path d="M1131.5,1088.4 L1127,1092.3" fill="none" stroke="#0a0a0a" stroke-width="0.8" stroke-linejoin="round"/>
<path d="M1134.8,1087.6 L1138.7,1084.4" fill="none" stroke="#0a0a0a" stroke-width="0.8" stroke-linejoin="round"/>
<path d="M1133.6,1090.8 L1130.3,1093.7" fill="none" stroke="#0a0a0a" stroke-width="0.8" stroke-linejoin="round"/>
<path d="M1137,1090.1 L1139.6,1087.9" fill="none" stroke="#0a0a0a" stroke-width="0.8" stroke-linejoin="round"/>
<path d="M1135.7,1093.3 L1133.7,1095.2" fill="none" stroke="#0a0a0a" stroke-width="0.8" stroke-linejoin="round"/>
<path d="M1139.1,1092.6 L1146.6,1086.2" fill="none" stroke="#0a0a0a" stroke-width="0.8" stroke-linejoin="round"/>
<path d="M1137.9,1095.9 L1138.4,1095.7" fill="none" stroke="#0a0a0a" stroke-width="0.8" stroke-linejoin="round"/>
<path d="M1141.1,1094.8 L1145.9,1090.3" fill="none" stroke="#0a0a0a" stroke-width="0.8" stroke-linejoin="round"/>
<path d="M1140.1,1098 L1136,1102.4" fill="none" stroke="#0a0a0a" stroke-width="0.8" stroke-linejoin="round"/>
<path d="M1143.2,1096.9 L1146.9,1093.5" fill="none" stroke="#0a0a0a" stroke-width="0.8" stroke-linejoin="round"/>
<path d="M1142.2,1100.1 L1139.2,1103.4" fill="none" stroke="#0a0a0a" stroke-width="0.8" stroke-linejoin="round"/>
<path d="M1145.4,1099.1 L1147.9,1096.8" fill="none" stroke="#0a0a0a" stroke-width="0.8" stroke-linejoin="round"/>
<path d="M1144.3,1102.2 L1142.5,1104.4" fill="none" stroke="#0a0a0a" stroke-width="0.8" stroke-linejoin="round"/>
<path d="M1147.5,1101.2 L1154.6,1094.4" fill="none" stroke="#0a0a0a" stroke-width="0.8" stroke-linejoin="round"/>
<path d="M1061.2,1072.1 L1068.3,1075 L1076.8,1081.3 L1086.7,1084.9 L1096.6,1090.5 L1106.5,1093.4 L1116.4,1097.6 L1127.7,1099.7 L1139,1103.3" fill="none" stroke="#0a0a0a" stroke-width="0.8" stroke-linejoin="round"/>
<path d="M1117.1,1101.1 L1127.7,1104.7 L1139,1107.5 L1147.5,1109.6" fill="none" stroke="#0a0a0a" stroke-width="0.8" stroke-linejoin="round"/>
<path d="M1127.7,1115.3 L1136.2,1116 L1144.7,1119.5 L1153.2,1120.2" fill="none" stroke="#0a0a0a" stroke-width="0.8" stroke-linejoin="round"/>
<path d="M1150.3,1083.5 L1153.2,1090.5 L1157.4,1097.6 L1160.2,1103.3" fill="none" stroke="#0a0a0a" stroke-width="0.8" stroke-linejoin="round"/>
<path d="M1147.5,1090.5 L1156,1087.7 L1164.5,1090.5" fill="none" stroke="#0a0a0a" stroke-width="0.8" stroke-linejoin="round"/>
<path d="M1151.7,1097.6 L1160.2,1094.8 L1165.9,1099" fill="none" stroke="#0a0a0a" stroke-width="0.8" stroke-linejoin="round"/>
<path d="M1253.5,933.9 L1258.8,942.7 L1264.1,951.6 L1262.3,958.6 L1267.6,962.2" fill="none" stroke="#0a0a0a" stroke-width="0.8" stroke-linejoin="round"/>
</g>
<path d="M211.4,761.3 L220.2,767.7 L239.7,774.8 L241.4,767.7 L248.5,765.9 L252.1,776.5 L246.7,797.7 L250.3,785.4 L253.8,769.4 L276.8,776.5 L305.1,790.7 L329.8,808.3 L347.5,824.3 L358.1,836.6 L372.3,856.1 L390,873.8 L411.2,886.1 L435.9,895 L467.8,898.5 L485.4,898.5 L506.6,896.7 L531.4,891.4 L549.1,884.4 L563.2,875.5 L577.8,861.4 L599,849 L614.9,840.2 L618.5,838.4 L620.2,846.2 L641.4,838.4 L662.7,834.9 L683.9,827.8 L705.1,820.7 L721,816.5 L703.2,827.6 L685.3,839.5 L669.5,849.4 L655.6,858.3 L667.5,853.4 L679.4,849.4 L683.4,847.4 L680.4,852.4 L687.3,847.4 L694.3,841.5 L689.3,848.4 L692.3,850.4 L699.2,846.4 L711.1,839.5 L723,831.6 L734.9,824.7 L746.7,817.7 L756.6,813.4 L763.6,812.2 L756.6,816.7 L748.7,822.7 L742.8,828.6 L750.7,824.7 L758.6,822.7 L766.5,824.1 L770.5,827.2 L782.4,822.7 L794.3,816.7 L806.1,813.4 L818,809.8 L825,808.8 L825,813.8 L835.8,810.8 L845.7,809.8 L845.7,815.7 L852.7,818.7 L858.6,817.7 L860.6,820.1 L853.7,821.3 L843.8,822.7 L832.9,824.1 L828.9,826.6 L837.8,827.6 L849.7,828.6 L860.6,830.6 L865.5,834.6 L867.1,841.5 L865.5,849.4 L861.6,857.3 L855.6,864.3 L849.7,869.2 L849.3,872.8 L854.7,872.8 L860.6,867.2 L865.5,860.3 L872.5,856.3 L878.4,857.3 L882.4,865.2 L884.4,877.1 L883.4,889 L879.4,896.9 L876.4,895 L874.5,900.9 L869.5,910.8 L865.5,916.7 L860.6,922.3 L873.5,918.7 L875.4,924.7 L883.4,921.7 L891.3,914.8 L900,906.8 L913.7,896.7 L924.6,886.1 L938.8,870.2 L935.2,856.1 L945.8,843.7 L970.6,836.6 L995.3,834.9 L1005.9,829.6 L995.3,817.2 L1007.7,803 L1030.7,788.9 L1055.4,782.5 L1083.7,781.8 L1115.6,788.2 L1140.3,794.2 L1159.8,795.3 L1166.8,792.4 L1181,797.7 L1178.5,773 L1182.7,771.9 L1195.1,775.5 L1207.5,785.4 L1225.2,803 L1248.2,820.7 L1232.2,822.5 L1214.6,824.3 L1211,829.6 L1221.6,838.4 L1234,852.5 L1237.6,863.2 L1235.8,872 L1249.9,879.1 L1262.3,891.4 L1271.1,905.6 L1278.2,923.3 L1283.5,933.9 L1281.8,944.5 L1276.4,958.6 L1269.4,948 L1267.6,962.2 L1258.8,976.3 L1260.5,986.9 L1246.4,994 L1232.2,1002.8 L1221.6,999.3 L1207.5,994 L1193.3,986.9 L1186.3,983.4 L1189.8,990.5 L1207.5,997.5 L1221.6,1011.7 L1223.9,1011.3 L1229.5,1025.5 L1230.9,1039.6 L1225.3,1053.7 L1216.8,1065.1 L1208.3,1073.6 L1197,1075 L1192.8,1073.6 L1201.2,1080.6 L1204.8,1086.3 L1204.1,1090.5 L1199.8,1097.6 L1194.2,1100.4 L1187.1,1102.5 L1189.9,1104.7 L1184.3,1111.7 L1178.6,1116 L1171.5,1118.1 L1173,1120.2 L1181.4,1124.5 L1187.1,1130.1 L1192.8,1137.2 L1196.3,1144.3 L1197,1149.9 L1193.7,1146 L1183.1,1156.6 L1165.4,1169 L1147.8,1181.3 L1126.5,1195.5 L1105.3,1199 L1091.2,1211.4 L1073.5,1218.5 L1055.8,1225.5 L1041.7,1236.1 L1038.1,1248.5 L1052.3,1259.1 L1070,1273.3 L1091.2,1290.9 L1105.3,1308.6 L1117.7,1329.8 L1120.2,1347.5 L1112.4,1368.7 L1098.2,1388.2 L1077,1400.6 L1055.8,1407.6 L1034.6,1409.4 L1020.5,1404.1 L999.2,1397 L985.1,1393.5 L967.4,1384.7 L956.8,1377.6 L942.7,1365.2 L928.5,1352.8 L921.4,1340.5 L928.5,1329.8 L935.6,1319.2 L921.4,1315.7 L903.8,1308.6 L889.6,1293.8 L879,1298 L861.3,1312.2 L843.6,1308.6 L833,1298 L822.7,1290.7 L808.5,1282.9 L794.4,1280.1 L783.1,1280.1 L773.2,1275.9 L766.1,1272.3 L764,1269.5 L757.6,1262.4 L755.5,1254.7 L756.9,1263.1 L761.1,1270.2 L759,1268.1 L751.9,1263.1 L746.3,1259.6 L740.6,1257.5 L735,1258.2 L730.7,1262.4 L729.3,1265.3 L733.6,1266.7 L737.1,1268.8 L739.2,1275.2 L735.7,1275.2 L737.8,1280.8 L743.5,1283.6 L749.1,1286.5 L752.6,1290.7 L751.9,1294.3 L746.3,1295.7 L744.2,1290.7 L739.2,1286.5 L733.6,1280.8 L730.7,1285.1 L725.8,1289.3 L720.8,1286.5 L713.7,1287.2 L706.7,1282.2 L699.6,1278 L701,1275.2 L695.4,1270.9 L690.4,1270.2 L686.2,1266.7 L681.2,1264.6 L662.9,1260.9 L643.4,1255.6 L631.1,1257.4 L620.5,1264.4 L599.2,1273.3 L585.1,1282.1 L578,1294.5 L579.8,1312.2 L583.3,1329.8 L578,1331.6 L556.8,1322.8 L535.6,1310.4 L525,1290.9 L514.4,1266.2 L503.8,1245 L493.2,1222 L482.5,1206.1 L468.4,1200.8 L463.1,1206.1 L454.3,1220.2 L445.4,1209.6 L433,1188.4 L427.7,1163.6 L420.7,1128.3 L418.9,1100 L418.2,1090.2 L411.2,1098.3 L400.6,1103.6 L393.5,1114.2 L379.3,1123.1 L354.6,1131.9 L329.8,1126.6 L294.5,1131.9 L294.5,1126.6 L269.7,1133.7 L241.4,1137.2 L216.7,1140 L209.6,1137.2 L207.9,1119.5 L193.7,1107.1 L190.2,1100.1 L170.7,1096.5 L149.5,1082.4 L133.6,1071.8 L135.4,1050.6 L130.1,1032.9 L123,1011.7 L124.8,997.5 L117.7,976.3 L119.4,962.2 L114.1,942.7 L124.8,919.7 L123,902.1 L135.4,886.1 L153,868.5 L161.9,856.1 L172.5,850.8 L177.8,845.5 L191.9,838.4 L206.1,826 L213.2,808.3 L212.4,785.4 L210.3,767.7Z" fill="none" stroke="#3a2a2e" stroke-width="0.9" stroke-linejoin="round"/>
<path d="M138.2,1086.6 L146,1088.8 L153,1091.2 L152.3,1093 L144.2,1090.9Z" fill="#2395e3" stroke="#3a2a2e" stroke-width="0.6"/>
<path d="M154.8,1092.3 L165.4,1095.8 L164.7,1097.9 L156.6,1094.8Z" fill="#2395e3" stroke="#3a2a2e" stroke-width="0.6"/>
<path d="M156.6,1108.2 L160.1,1110 L158.7,1112.1Z" fill="#2395e3" stroke="#3a2a2e" stroke-width="0.6"/>
<path d="M181.3,1111.4 L187,1114.9 L184.9,1116.3Z" fill="#2395e3" stroke="#3a2a2e" stroke-width="0.6"/>
<path d="M177.8,1120.6 L183.5,1124.8 L180.6,1125.5Z" fill="#2395e3" stroke="#3a2a2e" stroke-width="0.6"/>
<path d="M995.7,1415.8 L1020.5,1414 L1048.7,1411.2 L1080.6,1402.3 L1105.3,1386.4" fill="none" stroke="#3a2a2e" stroke-width="0.9" stroke-dasharray="9 2 5 3"/>
<!-- hexmap -->
<defs><pattern id="hat" width="5.65" height="5.65" patternUnits="userSpaceOnUse" patternTransform="rotate(-36)"><rect x="0" y="0" width="5.65" height="0.95" fill="#0d0304"/></pattern></defs>
<rect x="183.5" y="1814.7" width="115.1" height="101.5" fill="#fff" stroke="#333" stroke-width="1.2"/>
<rect x="317.8" y="1814.7" width="114.9" height="101.5" fill="#fff" stroke="#333" stroke-width="1.2"/>
<path d="M364.4,1424 L417.4,1424 L460.6,1473.6 L454.5,1505.4 L396.2,1504.7 L345.6,1464.7Z" fill="#1776ba" stroke="#1776ba" stroke-width="1.6" stroke-linejoin="round"/>
<path d="M460.6,1473.6 L493.4,1475.3 L523.5,1508.9 L520,1529.1 L485.3,1525.5 L454.5,1505.4Z" fill="#c92f3a" stroke="#c92f3a" stroke-width="1.6" stroke-linejoin="round"/>
<path d="M396.2,1504.7 L454.5,1505.4 L485.3,1525.5 L481.1,1543.2 L431.6,1539.7 L385.6,1524.5Z" fill="#c92f3a" stroke="#c92f3a" stroke-width="1.6" stroke-linejoin="round"/>
<path d="M523.5,1508.9 L557.1,1502.5 L582.9,1519.5 L573,1552.8 L548.2,1550.3 L520,1529.1Z" fill="#c92f3a" stroke="#c92f3a" stroke-width="1.6" stroke-linejoin="round"/>
<path d="M485.3,1525.5 L520,1529.1 L548.2,1550.3 L547.2,1568 L509.3,1568 L481.1,1543.2Z" fill="#c92f3a" stroke="#c92f3a" stroke-width="1.6" stroke-linejoin="round"/>
<path d="M582.9,1519.5 L637.4,1495.5 L673.8,1516.7 L659.6,1565.5 L610.8,1583.9 L573,1552.8Z" fill="#1776ba" stroke="#1776ba" stroke-width="1.6" stroke-linejoin="round"/>
<path d="M385.6,1524.5 L431.6,1539.7 L422.7,1559.8 L302.5,1586.7 L274.2,1573.3 L308.5,1536.1Z" fill="#1776ba" stroke="#1776ba" stroke-width="1.6" stroke-linejoin="round"/>
<path d="M431.6,1539.7 L481.1,1543.2 L509.3,1568 L506.5,1624.5 L485.3,1622.8 L422.7,1559.8Z" fill="#c92f3a" stroke="#c92f3a" stroke-width="1.6" stroke-linejoin="round"/>
<path d="M548.2,1550.3 L573,1552.8 L610.8,1583.9 L607.7,1607.9 L582.9,1606.9 L547.2,1568Z" fill="#c92f3a" stroke="#c92f3a" stroke-width="1.6" stroke-linejoin="round"/>
<path d="M509.3,1568 L547.2,1568 L582.9,1606.9 L579.4,1657.4 L536.9,1670.5 L506.5,1624.5Z" fill="#1776ba" stroke="#1776ba" stroke-width="1.6" stroke-linejoin="round"/>
<path d="M610.8,1583.9 L659.6,1565.5 L692.5,1578.6 L683.7,1628.1 L640.2,1633.4 L607.7,1607.9Z" fill="#c92f3a" stroke="#c92f3a" stroke-width="1.6" stroke-linejoin="round"/>
<path d="M582.9,1606.9 L607.7,1607.9 L640.2,1633.4 L639.5,1659.9 L585.4,1661.7 L579.4,1657.4Z" fill="#c92f3a" stroke="#c92f3a" stroke-width="1.6" stroke-linejoin="round"/>
<path d="M302.5,1586.7 L422.7,1559.8 L485.3,1622.8 L453.8,1718.2 L317.7,1761.7 L240.6,1686.4Z" fill="#1776ba" stroke="#1776ba" stroke-width="1.6" stroke-linejoin="round"/>
<path d="M485.3,1622.8 L506.5,1624.5 L536.9,1670.5 L528.8,1701.6 L453.8,1718.2Z" fill="#c92f3a" stroke="#c92f3a" stroke-width="1.6" stroke-linejoin="round"/>
<path d="M536.9,1670.5 L579.4,1657.4 L585.4,1661.7 L639.5,1659.9 L639.5,1675.1 L604.8,1679.3 L600.6,1712.9 L560.6,1725.3 L528.8,1701.6Z" fill="#1776ba" stroke="#1776ba" stroke-width="1.6" stroke-linejoin="round"/>
<path d="M604.8,1679.3 L639.5,1675.1 L696.1,1711.9 L698.5,1738.4 L643.7,1737.7 L600.6,1712.9Z" fill="#c92f3a" stroke="#c92f3a" stroke-width="1.6" stroke-linejoin="round"/>
<path d="M674,1516.7 L725,1493.7 L767.8,1512.4 L763.2,1550.3 L692.4,1578.6 L659.9,1565.5Z" fill="#c92f3a" stroke="#c92f3a" stroke-width="1.6" stroke-linejoin="round"/>
<path d="M692.4,1578.6 L763.2,1550.3 L813.4,1582.1 L810.9,1649.3 L750.8,1671.2 L683.6,1628.1Z" fill="#1776ba" stroke="#1776ba" stroke-width="1.6" stroke-linejoin="round"/>
<path d="M854.4,1509.6 L907.1,1480.6 L957.6,1502.5 L958.7,1550.3 L896.5,1592.7 L850.8,1566.2Z" fill="#c92f3a" stroke="#c92f3a" stroke-width="1.6" stroke-linejoin="round"/>
<path d="M813.4,1582.1 L850.8,1566.2 L896.5,1592.7 L894,1657.4 L856.9,1672.3 L810.9,1649.3Z" fill="#c92f3a" stroke="#c92f3a" stroke-width="1.6" stroke-linejoin="round"/>
<path d="M896.5,1592.7 L958.7,1550.3 L1003.6,1570.4 L1012.4,1642.2 L944.6,1671.2 L894,1657.4Z" fill="#c92f3a" stroke="#c92f3a" stroke-width="1.6" stroke-linejoin="round"/>
<path d="M640.1,1633.4 L683.6,1628.1 L750.8,1671.2 L749,1706.6 L696,1711.9 L639.4,1675.1 L639.4,1659.9Z" fill="#c92f3a" stroke="#c92f3a" stroke-width="1.6" stroke-linejoin="round"/>
<path d="M750.8,1671.2 L810.9,1649.3 L856.9,1672.3 L855.1,1698.1 L791.4,1723.6 L749,1706.6Z" fill="#c92f3a" stroke="#c92f3a" stroke-width="1.6" stroke-linejoin="round"/>
<path d="M856.9,1672.3 L894,1657.4 L944.6,1671.2 L943.5,1698.1 L893.3,1710.1 L855.1,1698.1Z" fill="#c92f3a" stroke="#c92f3a" stroke-width="1.6" stroke-linejoin="round"/>
<path d="M696,1711.9 L749,1706.6 L791.4,1723.6 L788.6,1765.3 L752.5,1771.3 L697.7,1738.4Z" fill="#c92f3a" stroke="#c92f3a" stroke-width="1.6" stroke-linejoin="round"/>
<path d="M791.4,1723.6 L855.1,1698.1 L893.3,1710.1 L893.3,1770.6 L839.2,1791.8 L788.6,1765.3Z" fill="#c92f3a" stroke="#c92f3a" stroke-width="1.6" stroke-linejoin="round"/>
<path d="M893.3,1710.1 L943.5,1698.1 L1040.7,1725.3 L1048.5,1763.2 L959.4,1790.7 L893.3,1770.6Z" fill="#c92f3a" stroke="#c92f3a" stroke-width="1.6" stroke-linejoin="round"/>
<path d="M1210.3,1385.4 L1234,1366.3 L1265.8,1368.4 L1274.7,1396 L1259.8,1409.4 L1246.4,1421.8 L1223.4,1419 L1217.4,1403.7Z" fill="#1776ba" stroke="#1776ba" stroke-width="1.6" stroke-linejoin="round"/>
<path d="M1217.4,1403.7 L1259.8,1409.4 L1246.4,1421.8 L1223.4,1419Z" fill="#c92f3a" stroke="#c92f3a" stroke-width="1.6" stroke-linejoin="round"/>
<path d="M1103.2,1426.7 L1141,1421.4 L1188,1436.6 L1195.1,1452.5 L1165.8,1460.3 L1106.7,1443.7Z" fill="#1776ba" stroke="#1776ba" stroke-width="1.6" stroke-linejoin="round"/>
<path d="M1188,1436.6 L1223.4,1419 L1246.4,1421.8 L1261.2,1463.9 L1244.6,1473.8 L1195.1,1452.5Z" fill="#1776ba" stroke="#1776ba" stroke-width="1.6" stroke-linejoin="round"/>
<path d="M1037.8,1484.4 L1106.7,1443.7 L1165.8,1460.3 L1189.8,1540.9 L1136.1,1588.7 L1045.5,1549.1Z" fill="#1776ba" stroke="#1776ba" stroke-width="1.6" stroke-linejoin="round"/>
<path d="M1165.8,1460.3 L1195.1,1452.5 L1244.6,1473.8 L1259.8,1520.4 L1235.1,1560.4 L1189.8,1540.9Z" fill="#1776ba" stroke="#1776ba" stroke-width="1.6" stroke-linejoin="round"/>
<path d="M1244.6,1473.8 L1261.2,1463.9 L1302.3,1473.8 L1312.9,1502.8 L1286,1525.7 L1259.8,1520.4Z" fill="#1776ba" stroke="#1776ba" stroke-width="1.6" stroke-linejoin="round"/>
<path d="M1259.8,1520.4 L1286,1525.7 L1299.4,1574.5 L1265.8,1621.6 L1242.9,1623 L1235.1,1560.4Z" fill="#1776ba" stroke="#1776ba" stroke-width="1.6" stroke-linejoin="round"/>
<path d="M1189.8,1540.9 L1235.1,1560.4 L1242.9,1623 L1211,1660.5 L1149.1,1643.5 L1136.1,1588.7Z" fill="#1776ba" stroke="#1776ba" stroke-width="1.6" stroke-linejoin="round"/>
<path d="M1004.2,1569.9 L1045.5,1549.1 L1136.1,1588.7 L1149.1,1643.5 L1090.8,1670 L1021.9,1643.5 L1012.3,1641.7Z" fill="#c92f3a" stroke="#c92f3a" stroke-width="1.6" stroke-linejoin="round"/>
<path d="M1242.9,1623 L1265.8,1621.6 L1268.7,1656.9 L1234,1688.8 L1213.9,1692.3 L1211,1660.5Z" fill="#1776ba" stroke="#1776ba" stroke-width="1.6" stroke-linejoin="round"/>
<path d="M1090.8,1670 L1149.1,1643.5 L1211,1660.5 L1213.9,1692.3 L1171.4,1720.6 L1101.4,1707.9Z" fill="#1776ba" stroke="#1776ba" stroke-width="1.6" stroke-linejoin="round"/>
<path d="M1171.4,1720.6 L1213.9,1692.3 L1234,1688.8 L1238.6,1728.4 L1209.3,1748.9 L1173.9,1742.5Z" fill="#1776ba" stroke="#1776ba" stroke-width="1.6" stroke-linejoin="round"/>
<path d="M944.1,1670.7 L1012.3,1641.7 L1021.9,1643.5 L1090.8,1670 L1101.4,1707.9 L1041.3,1725.5 L944.1,1697.6Z" fill="#1776ba" stroke="#1776ba" stroke-width="1.6" stroke-linejoin="round"/>
<path d="M453.7,1719 L529.1,1702 L560.9,1725.3 L539.7,1779.1 L472.5,1817.3 L438.2,1792.5Z" fill="#c92f3a" stroke="#c92f3a" stroke-width="1.6" stroke-linejoin="round"/>
<path d="M560.9,1725.3 L600.8,1712.9 L644,1737.7 L643.3,1764.9 L562.7,1795 L539.7,1779.1Z" fill="#c92f3a" stroke="#c92f3a" stroke-width="1.6" stroke-linejoin="round"/>
<path d="M562.7,1795 L643.3,1764.9 L720,1822.6 L712.9,1929.3 L613.2,1973.6 L530.8,1907.4Z" fill="#c92f3a" stroke="#c92f3a" stroke-width="1.6" stroke-linejoin="round"/>
<path d="M644,1737.7 L698.1,1738.4 L752.9,1771.3 L757.9,1810.9 L720,1822.6 L643.3,1764.9Z" fill="#c92f3a" stroke="#c92f3a" stroke-width="1.6" stroke-linejoin="round"/>
<path d="M752.9,1771.3 L789,1764.9 L839.5,1791.4 L839.5,1827.9 L799.6,1844.5 L757.9,1810.9Z" fill="#c92f3a" stroke="#c92f3a" stroke-width="1.6" stroke-linejoin="round"/>
<path d="M839.6,1791.4 L893.7,1771.3 L960.9,1792.1 L963.4,1828.6 L889.1,1854.4 L839.6,1827.9Z" fill="#c92f3a" stroke="#c92f3a" stroke-width="1.6" stroke-linejoin="round"/>
<path d="M960.9,1792.1 L1048.2,1763.2 L1115.8,1778 L1122.5,1835.6 L1070.5,1866.4 L963.4,1828.6Z" fill="#c92f3a" stroke="#c92f3a" stroke-width="1.6" stroke-linejoin="round"/>
<path d="M889.1,1854.4 L963.4,1828.6 L1070.5,1866.4 L1079.3,1941.7 L992.7,1988.8 L898.3,1940.7Z" fill="#c92f3a" stroke="#c92f3a" stroke-width="1.6" stroke-linejoin="round"/>
<path d="M1041.2,1725.3 L1101.3,1708.3 L1171.3,1720.7 L1173.1,1743.7 L1115.8,1778 L1048.2,1763.2Z" fill="#c92f3a" stroke="#c92f3a" stroke-width="1.6" stroke-linejoin="round"/>
<path d="M203.3,1843.9 L239.8,1829.9 L276.5,1843.9 L276.5,1876.5 L239.8,1890.1 L204,1877.1Z" fill="#c92f3a" stroke="#c92f3a" stroke-width="1.6" stroke-linejoin="round"/>
<path d="M343.2,1846.2 L372.5,1828.3 L404,1846.2 L405,1880.4 L374.1,1896 L344.2,1878.7Z" fill="#1776ba" stroke="#1776ba" stroke-width="1.6" stroke-linejoin="round"/>
<path d="M364.4,1424 L417.4,1424 L460.6,1473.6 L454.5,1505.4 L396.2,1504.7 L345.6,1464.7Z" fill="#1776ba" stroke="#3a1a1e" stroke-width="0.6" stroke-linejoin="round"/>
<path d="M460.6,1473.6 L493.4,1475.3 L523.5,1508.9 L520,1529.1 L485.3,1525.5 L454.5,1505.4Z" fill="#c92f3a" stroke="#3a1a1e" stroke-width="0.6" stroke-linejoin="round"/>
<path d="M396.2,1504.7 L454.5,1505.4 L485.3,1525.5 L481.1,1543.2 L431.6,1539.7 L385.6,1524.5Z" fill="#c92f3a" stroke="#3a1a1e" stroke-width="0.6" stroke-linejoin="round"/>
<path d="M523.5,1508.9 L557.1,1502.5 L582.9,1519.5 L573,1552.8 L548.2,1550.3 L520,1529.1Z" fill="#c92f3a" stroke="#3a1a1e" stroke-width="0.6" stroke-linejoin="round"/>
<path d="M485.3,1525.5 L520,1529.1 L548.2,1550.3 L547.2,1568 L509.3,1568 L481.1,1543.2Z" fill="#c92f3a" stroke="#3a1a1e" stroke-width="0.6" stroke-linejoin="round"/>
<path d="M582.9,1519.5 L637.4,1495.5 L673.8,1516.7 L659.6,1565.5 L610.8,1583.9 L573,1552.8Z" fill="#1776ba" stroke="#3a1a1e" stroke-width="0.6" stroke-linejoin="round"/>
<path d="M385.6,1524.5 L431.6,1539.7 L422.7,1559.8 L302.5,1586.7 L274.2,1573.3 L308.5,1536.1Z" fill="#1776ba" stroke="#3a1a1e" stroke-width="0.6" stroke-linejoin="round"/>
<path d="M431.6,1539.7 L481.1,1543.2 L509.3,1568 L506.5,1624.5 L485.3,1622.8 L422.7,1559.8Z" fill="#c92f3a" stroke="#3a1a1e" stroke-width="0.6" stroke-linejoin="round"/>
<path d="M431.6,1539.7 L481.1,1543.2 L509.3,1568 L506.5,1624.5 L485.3,1622.8 L422.7,1559.8Z" fill="url(#hat)" stroke="#3a1a1e" stroke-width="0.6"/>
<path d="M548.2,1550.3 L573,1552.8 L610.8,1583.9 L607.7,1607.9 L582.9,1606.9 L547.2,1568Z" fill="#c92f3a" stroke="#3a1a1e" stroke-width="0.6" stroke-linejoin="round"/>
<path d="M509.3,1568 L547.2,1568 L582.9,1606.9 L579.4,1657.4 L536.9,1670.5 L506.5,1624.5Z" fill="#1776ba" stroke="#3a1a1e" stroke-width="0.6" stroke-linejoin="round"/>
<path d="M610.8,1583.9 L659.6,1565.5 L692.5,1578.6 L683.7,1628.1 L640.2,1633.4 L607.7,1607.9Z" fill="#c92f3a" stroke="#3a1a1e" stroke-width="0.6" stroke-linejoin="round"/>
<path d="M582.9,1606.9 L607.7,1607.9 L640.2,1633.4 L639.5,1659.9 L585.4,1661.7 L579.4,1657.4Z" fill="#c92f3a" stroke="#3a1a1e" stroke-width="0.6" stroke-linejoin="round"/>
<path d="M302.5,1586.7 L422.7,1559.8 L485.3,1622.8 L453.8,1718.2 L317.7,1761.7 L240.6,1686.4Z" fill="#1776ba" stroke="#3a1a1e" stroke-width="0.6" stroke-linejoin="round"/>
<path d="M485.3,1622.8 L506.5,1624.5 L536.9,1670.5 L528.8,1701.6 L453.8,1718.2Z" fill="#c92f3a" stroke="#3a1a1e" stroke-width="0.6" stroke-linejoin="round"/>
<path d="M536.9,1670.5 L579.4,1657.4 L585.4,1661.7 L639.5,1659.9 L639.5,1675.1 L604.8,1679.3 L600.6,1712.9 L560.6,1725.3 L528.8,1701.6Z" fill="#1776ba" stroke="#3a1a1e" stroke-width="0.6" stroke-linejoin="round"/>
<path d="M604.8,1679.3 L639.5,1675.1 L696.1,1711.9 L698.5,1738.4 L643.7,1737.7 L600.6,1712.9Z" fill="#c92f3a" stroke="#3a1a1e" stroke-width="0.6" stroke-linejoin="round"/>
<path d="M674,1516.7 L725,1493.7 L767.8,1512.4 L763.2,1550.3 L692.4,1578.6 L659.9,1565.5Z" fill="#c92f3a" stroke="#3a1a1e" stroke-width="0.6" stroke-linejoin="round"/>
<path d="M674,1516.7 L725,1493.7 L767.8,1512.4 L763.2,1550.3 L692.4,1578.6 L659.9,1565.5Z" fill="url(#hat)" stroke="#3a1a1e" stroke-width="0.6"/>
<path d="M692.4,1578.6 L763.2,1550.3 L813.4,1582.1 L810.9,1649.3 L750.8,1671.2 L683.6,1628.1Z" fill="#1776ba" stroke="#3a1a1e" stroke-width="0.6" stroke-linejoin="round"/>
<path d="M854.4,1509.6 L907.1,1480.6 L957.6,1502.5 L958.7,1550.3 L896.5,1592.7 L850.8,1566.2Z" fill="#c92f3a" stroke="#3a1a1e" stroke-width="0.6" stroke-linejoin="round"/>
<path d="M854.4,1509.6 L907.1,1480.6 L957.6,1502.5 L958.7,1550.3 L896.5,1592.7 L850.8,1566.2Z" fill="url(#hat)" stroke="#3a1a1e" stroke-width="0.6"/>
<path d="M813.4,1582.1 L850.8,1566.2 L896.5,1592.7 L894,1657.4 L856.9,1672.3 L810.9,1649.3Z" fill="#c92f3a" stroke="#3a1a1e" stroke-width="0.6" stroke-linejoin="round"/>
<path d="M896.5,1592.7 L958.7,1550.3 L1003.6,1570.4 L1012.4,1642.2 L944.6,1671.2 L894,1657.4Z" fill="#c92f3a" stroke="#3a1a1e" stroke-width="0.6" stroke-linejoin="round"/>
<path d="M640.1,1633.4 L683.6,1628.1 L750.8,1671.2 L749,1706.6 L696,1711.9 L639.4,1675.1 L639.4,1659.9Z" fill="#c92f3a" stroke="#3a1a1e" stroke-width="0.6" stroke-linejoin="round"/>
<path d="M750.8,1671.2 L810.9,1649.3 L856.9,1672.3 L855.1,1698.1 L791.4,1723.6 L749,1706.6Z" fill="#c92f3a" stroke="#3a1a1e" stroke-width="0.6" stroke-linejoin="round"/>
<path d="M856.9,1672.3 L894,1657.4 L944.6,1671.2 L943.5,1698.1 L893.3,1710.1 L855.1,1698.1Z" fill="#c92f3a" stroke="#3a1a1e" stroke-width="0.6" stroke-linejoin="round"/>
<path d="M696,1711.9 L749,1706.6 L791.4,1723.6 L788.6,1765.3 L752.5,1771.3 L697.7,1738.4Z" fill="#c92f3a" stroke="#3a1a1e" stroke-width="0.6" stroke-linejoin="round"/>
<path d="M791.4,1723.6 L855.1,1698.1 L893.3,1710.1 L893.3,1770.6 L839.2,1791.8 L788.6,1765.3Z" fill="#c92f3a" stroke="#3a1a1e" stroke-width="0.6" stroke-linejoin="round"/>
<path d="M893.3,1710.1 L943.5,1698.1 L1040.7,1725.3 L1048.5,1763.2 L959.4,1790.7 L893.3,1770.6Z" fill="#c92f3a" stroke="#3a1a1e" stroke-width="0.6" stroke-linejoin="round"/>
<path d="M1210.3,1385.4 L1234,1366.3 L1265.8,1368.4 L1274.7,1396 L1259.8,1409.4 L1246.4,1421.8 L1223.4,1419 L1217.4,1403.7Z" fill="#1776ba" stroke="#3a1a1e" stroke-width="0.6" stroke-linejoin="round"/>
<path d="M1217.4,1403.7 L1259.8,1409.4 L1246.4,1421.8 L1223.4,1419Z" fill="#c92f3a" stroke="#3a1a1e" stroke-width="0.6" stroke-linejoin="round"/>
<path d="M1103.2,1426.7 L1141,1421.4 L1188,1436.6 L1195.1,1452.5 L1165.8,1460.3 L1106.7,1443.7Z" fill="#1776ba" stroke="#3a1a1e" stroke-width="0.6" stroke-linejoin="round"/>
<path d="M1188,1436.6 L1223.4,1419 L1246.4,1421.8 L1261.2,1463.9 L1244.6,1473.8 L1195.1,1452.5Z" fill="#1776ba" stroke="#3a1a1e" stroke-width="0.6" stroke-linejoin="round"/>
<path d="M1037.8,1484.4 L1106.7,1443.7 L1165.8,1460.3 L1189.8,1540.9 L1136.1,1588.7 L1045.5,1549.1Z" fill="#1776ba" stroke="#3a1a1e" stroke-width="0.6" stroke-linejoin="round"/>
<path d="M1165.8,1460.3 L1195.1,1452.5 L1244.6,1473.8 L1259.8,1520.4 L1235.1,1560.4 L1189.8,1540.9Z" fill="#1776ba" stroke="#3a1a1e" stroke-width="0.6" stroke-linejoin="round"/>
<path d="M1244.6,1473.8 L1261.2,1463.9 L1302.3,1473.8 L1312.9,1502.8 L1286,1525.7 L1259.8,1520.4Z" fill="#1776ba" stroke="#3a1a1e" stroke-width="0.6" stroke-linejoin="round"/>
<path d="M1259.8,1520.4 L1286,1525.7 L1299.4,1574.5 L1265.8,1621.6 L1242.9,1623 L1235.1,1560.4Z" fill="#1776ba" stroke="#3a1a1e" stroke-width="0.6" stroke-linejoin="round"/>
<path d="M1189.8,1540.9 L1235.1,1560.4 L1242.9,1623 L1211,1660.5 L1149.1,1643.5 L1136.1,1588.7Z" fill="#1776ba" stroke="#3a1a1e" stroke-width="0.6" stroke-linejoin="round"/>
<path d="M1004.2,1569.9 L1045.5,1549.1 L1136.1,1588.7 L1149.1,1643.5 L1090.8,1670 L1021.9,1643.5 L1012.3,1641.7Z" fill="#c92f3a" stroke="#3a1a1e" stroke-width="0.6" stroke-linejoin="round"/>
<path d="M1004.2,1569.9 L1045.5,1549.1 L1136.1,1588.7 L1149.1,1643.5 L1090.8,1670 L1021.9,1643.5 L1012.3,1641.7Z" fill="url(#hat)" stroke="#3a1a1e" stroke-width="0.6"/>
<path d="M1242.9,1623 L1265.8,1621.6 L1268.7,1656.9 L1234,1688.8 L1213.9,1692.3 L1211,1660.5Z" fill="#1776ba" stroke="#3a1a1e" stroke-width="0.6" stroke-linejoin="round"/>
<path d="M1090.8,1670 L1149.1,1643.5 L1211,1660.5 L1213.9,1692.3 L1171.4,1720.6 L1101.4,1707.9Z" fill="#1776ba" stroke="#3a1a1e" stroke-width="0.6" stroke-linejoin="round"/>
<path d="M1171.4,1720.6 L1213.9,1692.3 L1234,1688.8 L1238.6,1728.4 L1209.3,1748.9 L1173.9,1742.5Z" fill="#1776ba" stroke="#3a1a1e" stroke-width="0.6" stroke-linejoin="round"/>
<path d="M944.1,1670.7 L1012.3,1641.7 L1021.9,1643.5 L1090.8,1670 L1101.4,1707.9 L1041.3,1725.5 L944.1,1697.6Z" fill="#1776ba" stroke="#3a1a1e" stroke-width="0.6" stroke-linejoin="round"/>
<path d="M453.7,1719 L529.1,1702 L560.9,1725.3 L539.7,1779.1 L472.5,1817.3 L438.2,1792.5Z" fill="#c92f3a" stroke="#3a1a1e" stroke-width="0.6" stroke-linejoin="round"/>
<path d="M453.7,1719 L529.1,1702 L560.9,1725.3 L539.7,1779.1 L472.5,1817.3 L438.2,1792.5Z" fill="url(#hat)" stroke="#3a1a1e" stroke-width="0.6"/>
<path d="M560.9,1725.3 L600.8,1712.9 L644,1737.7 L643.3,1764.9 L562.7,1795 L539.7,1779.1Z" fill="#c92f3a" stroke="#3a1a1e" stroke-width="0.6" stroke-linejoin="round"/>
<path d="M562.7,1795 L643.3,1764.9 L720,1822.6 L712.9,1929.3 L613.2,1973.6 L530.8,1907.4Z" fill="#c92f3a" stroke="#3a1a1e" stroke-width="0.6" stroke-linejoin="round"/>
<path d="M644,1737.7 L698.1,1738.4 L752.9,1771.3 L757.9,1810.9 L720,1822.6 L643.3,1764.9Z" fill="#c92f3a" stroke="#3a1a1e" stroke-width="0.6" stroke-linejoin="round"/>
<path d="M752.9,1771.3 L789,1764.9 L839.5,1791.4 L839.5,1827.9 L799.6,1844.5 L757.9,1810.9Z" fill="#c92f3a" stroke="#3a1a1e" stroke-width="0.6" stroke-linejoin="round"/>
<path d="M839.6,1791.4 L893.7,1771.3 L960.9,1792.1 L963.4,1828.6 L889.1,1854.4 L839.6,1827.9Z" fill="#c92f3a" stroke="#3a1a1e" stroke-width="0.6" stroke-linejoin="round"/>
<path d="M960.9,1792.1 L1048.2,1763.2 L1115.8,1778 L1122.5,1835.6 L1070.5,1866.4 L963.4,1828.6Z" fill="#c92f3a" stroke="#3a1a1e" stroke-width="0.6" stroke-linejoin="round"/>
<path d="M960.9,1792.1 L1048.2,1763.2 L1115.8,1778 L1122.5,1835.6 L1070.5,1866.4 L963.4,1828.6Z" fill="url(#hat)" stroke="#3a1a1e" stroke-width="0.6"/>
<path d="M889.1,1854.4 L963.4,1828.6 L1070.5,1866.4 L1079.3,1941.7 L992.7,1988.8 L898.3,1940.7Z" fill="#c92f3a" stroke="#3a1a1e" stroke-width="0.6" stroke-linejoin="round"/>
<path d="M1041.2,1725.3 L1101.3,1708.3 L1171.3,1720.7 L1173.1,1743.7 L1115.8,1778 L1048.2,1763.2Z" fill="#c92f3a" stroke="#3a1a1e" stroke-width="0.6" stroke-linejoin="round"/>
<path d="M203.3,1843.9 L239.8,1829.9 L276.5,1843.9 L276.5,1876.5 L239.8,1890.1 L204,1877.1Z" fill="#c92f3a" stroke="#3a1a1e" stroke-width="0.6" stroke-linejoin="round"/>
<path d="M343.2,1846.2 L372.5,1828.3 L404,1846.2 L405,1880.4 L374.1,1896 L344.2,1878.7Z" fill="#1776ba" stroke="#3a1a1e" stroke-width="0.6" stroke-linejoin="round"/>
<path d="M579.4,1657.4 L604.8,1679.3" fill="none" stroke="#3a1a1e" stroke-width="0.6"/>
<g font-size="11.3" text-anchor="middle" fill="#262626" stroke="#ffffff" stroke-opacity="0.3" stroke-width="0.6" paint-order="stroke" letter-spacing="0.2">
<text transform="translate(400.4,1468.9) scale(1.17,1)">WA</text>
<text transform="translate(484.6,1506.8) scale(1.17,1)">MT</text>
<text transform="translate(435.8,1527.3) scale(1.17,1)">ID</text>
<text transform="translate(552.5,1530.8) scale(1.17,1)">ND</text>
<text transform="translate(514.7,1552.7) scale(1.17,1)">WY</text>
<text transform="translate(621.8,1544.2) scale(1.17,1)">MN</text>
<text transform="translate(358.4,1556.6) scale(1.17,1)">OR</text>
<text transform="translate(477.5,1580.3) scale(1.17,1)">NV</text>
<text transform="translate(580.1,1583.8) scale(1.17,1)">SD</text>
<text transform="translate(544,1621) scale(1.17,1)">CO</text>
<text transform="translate(648.3,1605.1) scale(1.17,1)">IA</text>
<text transform="translate(610.8,1648.2) scale(1.17,1)">NE</text>
<text transform="translate(366.8,1663.4) scale(1.17,1)">CA</text>
<text transform="translate(500.5,1682.1) scale(1.17,1)">UT</text>
<text transform="translate(567,1695.9) scale(1.17,1)">NM</text>
<text transform="translate(643,1713.6) scale(1.17,1)">KS</text>
<text transform="translate(717.2,1538.6) scale(1.17,1)">WI</text>
<text transform="translate(750.1,1616.4) scale(1.17,1)">IL</text>
<text transform="translate(905.3,1539.6) scale(1.17,1)">MI</text>
<text transform="translate(854,1623.8) scale(1.17,1)">IN</text>
<text transform="translate(953,1617.8) scale(1.17,1)">OH</text>
<text transform="translate(694.9,1676.8) scale(1.17,1)">MO</text>
<text transform="translate(803.5,1689.9) scale(1.17,1)">KY</text>
<text transform="translate(900.4,1687.4) scale(1.17,1)">WV</text>
<text transform="translate(749,1741.2) scale(1.17,1)">AR</text>
<text transform="translate(841.7,1750) scale(1.17,1)">TN</text>
<text transform="translate(968.2,1750.7) scale(1.17,1)">NC</text>
<text transform="translate(1242.9,1397) scale(1.17,1)">ME</text>
<text transform="translate(1148.1,1444.4) scale(1.17,1)">VT</text>
<text transform="translate(1222.7,1447.2) scale(1.17,1)">NH</text>
<text transform="translate(1111.3,1518.6) scale(1.17,1)">NY</text>
<text transform="translate(1216.3,1508) scale(1.17,1)">MA</text>
<text transform="translate(1280,1497.8) scale(1.17,1)">RI</text>
<text transform="translate(1266.5,1575.6) scale(1.17,1)">CT</text>
<text transform="translate(1189.1,1606.3) scale(1.17,1)">NJ</text>
<text transform="translate(1074.2,1616.2) scale(1.17,1)">PA</text>
<text transform="translate(1241.1,1660.1) scale(1.17,1)">DE</text>
<text transform="translate(1154.5,1686.6) scale(1.17,1)">MD</text>
<text transform="translate(1207.5,1726.6) scale(1.17,1)">DC</text>
<text transform="translate(1018.3,1688.7) scale(1.17,1)">VA</text>
<text transform="translate(503.3,1764.2) scale(1.17,1)">AZ</text>
<text transform="translate(598.7,1755) scale(1.17,1)">OK</text>
<text transform="translate(630.6,1873.4) scale(1.17,1)">TX</text>
<text transform="translate(707.6,1780.1) scale(1.17,1)">LA</text>
<text transform="translate(800.6,1810.1) scale(1.17,1)">MS</text>
<text transform="translate(900.8,1816.2) scale(1.17,1)">AL</text>
<text transform="translate(1041.5,1815.5) scale(1.17,1)">GA</text>
<text transform="translate(984.9,1914.1) scale(1.17,1)">FL</text>
<text transform="translate(1104.1,1746.5) scale(1.17,1)">SC</text>
<text transform="translate(239.8,1864.3) scale(1.17,1)">AK</text>
<text transform="translate(375.7,1867) scale(1.17,1)">HI</text>
</g>
<!-- texts -->
<rect x="56.1" y="1282.4" width="112.6" height="31.2" fill="#fadadd"/>
<rect x="168.7" y="1282.4" width="34.2" height="31.2" fill="#f4a5ab"/>
<rect x="202.9" y="1282.4" width="51.9" height="31.2" fill="#e63946"/>
<rect x="254.8" y="1282.4" width="59.7" height="31.2" fill="#8f141b"/>
<rect x="56.1" y="1282.4" width="258.4" height="31.2" fill="none" stroke="#444" stroke-width="0.7"/>
<path d="M168.7,1282.4 V1313.6" stroke="#444" stroke-width="0.7"/>
<path d="M202.9,1282.4 V1313.6" stroke="#444" stroke-width="0.7"/>
<path d="M254.8,1282.4 V1313.6" stroke="#444" stroke-width="0.7"/>
<rect x="56.1" y="1335.8" width="112.6" height="30.6" fill="#b3dffa"/>
<rect x="168.7" y="1335.8" width="34.2" height="30.6" fill="#7fc6f6"/>
<rect x="202.9" y="1335.8" width="51.9" height="30.6" fill="#2395e3"/>
<rect x="254.8" y="1335.8" width="59.7" height="30.6" fill="#0f4c75"/>
<rect x="56.1" y="1335.8" width="258.4" height="30.6" fill="none" stroke="#444" stroke-width="0.7"/>
<path d="M168.7,1335.8 V1366.4" stroke="#444" stroke-width="0.7"/>
<path d="M202.9,1335.8 V1366.4" stroke="#444" stroke-width="0.7"/>
<path d="M254.8,1335.8 V1366.4" stroke="#444" stroke-width="0.7"/>
<text x="122.7" y="1250.6" font-size="25" fill="#000" text-anchor="start" font-weight="bold" textLength="126.5" lengthAdjust="spacingAndGlyphs">Vote share</text>
<text x="66.2" y="1269" font-size="17.5" fill="#222" text-anchor="start" font-weight="normal" textLength="238.5" lengthAdjust="spacingAndGlyphs">of candidate with most votes</text>
<text x="325.5" y="1307.6" font-size="22.5" fill="#c9252d" text-anchor="start" font-weight="bold" textLength="71.3" lengthAdjust="spacingAndGlyphs">Trump</text>
<text x="326.4" y="1359.6" font-size="22.5" fill="#1a75bc" text-anchor="start" font-weight="bold" textLength="64.5" lengthAdjust="spacingAndGlyphs">Harris</text>
<text x="50.2" y="1331.4" font-size="20" fill="#808080" text-anchor="start" font-weight="normal" textLength="13" lengthAdjust="spacingAndGlyphs">0</text>
<text x="156.2" y="1331.4" font-size="20" fill="#808080" text-anchor="start" font-weight="normal" textLength="23.2" lengthAdjust="spacingAndGlyphs">45</text>
<text x="191.3" y="1331.4" font-size="20" fill="#808080" text-anchor="start" font-weight="normal" textLength="22.8" lengthAdjust="spacingAndGlyphs">55</text>
<text x="242.4" y="1331.4" font-size="20" fill="#808080" text-anchor="start" font-weight="normal" textLength="22.8" lengthAdjust="spacingAndGlyphs">75</text>
<text x="317.5" y="1331.4" font-size="20" fill="#808080" text-anchor="start" font-weight="normal" textLength="15.5" lengthAdjust="spacingAndGlyphs">%</text>
<text x="50.2" y="1393.2" font-size="17.5" fill="#707070" text-anchor="start" font-weight="normal" textLength="354.6" lengthAdjust="spacingAndGlyphs">Hexagon map below shaded by candidate</text>
<text x="53.2" y="1414.5" font-size="17.5" fill="#707070" text-anchor="start" font-weight="normal" textLength="348.6" lengthAdjust="spacingAndGlyphs">projected to winning the electoral college</text>
<text x="105.1" y="1504.5" font-size="19" fill="#1a1a1a" text-anchor="start" font-weight="normal" textLength="247.1" lengthAdjust="spacingAndGlyphs">States that flipped from 2020</text>
<clipPath id="sw"><rect x="54.4" y="1479" width="43.3" height="39.5"/></clipPath><g clip-path="url(#sw)" stroke="#6a6a6a" stroke-width="1.25">
<path d="M-0.2,1518.5 L36.8,1479"/>
<path d="M4.35,1518.5 L41.35,1479"/>
<path d="M8.9,1518.5 L45.9,1479"/>
<path d="M13.45,1518.5 L50.45,1479"/>
<path d="M18,1518.5 L55,1479"/>
<path d="M22.55,1518.5 L59.55,1479"/>
<path d="M27.1,1518.5 L64.1,1479"/>
<path d="M31.65,1518.5 L68.65,1479"/>
<path d="M36.2,1518.5 L73.2,1479"/>
<path d="M40.75,1518.5 L77.75,1479"/>
<path d="M45.3,1518.5 L82.3,1479"/>
<path d="M49.85,1518.5 L86.85,1479"/>
<path d="M54.4,1518.5 L91.4,1479"/>
<path d="M58.95,1518.5 L95.95,1479"/>
<path d="M63.5,1518.5 L100.5,1479"/>
<path d="M68.05,1518.5 L105.05,1479"/>
<path d="M72.6,1518.5 L109.6,1479"/>
<path d="M77.15,1518.5 L114.15,1479"/>
<path d="M81.7,1518.5 L118.7,1479"/>
<path d="M86.25,1518.5 L123.25,1479"/>
<path d="M90.8,1518.5 L127.8,1479"/>
<path d="M95.35,1518.5 L132.35,1479"/>
<path d="M99.9,1518.5 L136.9,1479"/>
<path d="M104.45,1518.5 L141.45,1479"/>
<path d="M109,1518.5 L146,1479"/>
<path d="M113.55,1518.5 L150.55,1479"/>
<path d="M118.1,1518.5 L155.1,1479"/>
<path d="M122.65,1518.5 L159.65,1479"/>
</g>
<text x="1161.4" y="1252.6" font-size="18" fill="#6b6564" text-anchor="start" font-weight="normal" textLength="185.6" lengthAdjust="spacingAndGlyphs">Population cartogram:</text>
<text x="1166" y="1271.4" font-size="18" fill="#6b6564" text-anchor="start" font-weight="normal" textLength="176.3" lengthAdjust="spacingAndGlyphs">areas proportional to</text>
<text x="1112.8" y="1290.6" font-size="18" fill="#6b6564" text-anchor="start" font-weight="normal" textLength="282.6" lengthAdjust="spacingAndGlyphs">the number of people living there</text>
<text x="1117.3" y="1309.4" font-size="18" fill="#a5a1a0" text-anchor="start" font-weight="normal" textLength="273.6" lengthAdjust="spacingAndGlyphs">(Alaska and Hawaii not included)</text>
<text x="1166" y="1882.2" font-size="18" fill="#6b6564" text-anchor="start" font-weight="normal" textLength="172" lengthAdjust="spacingAndGlyphs">Hexagon cartogram:</text>
<text x="1104.2" y="1901.4" font-size="18" fill="#6b6564" text-anchor="start" font-weight="normal" textLength="295.3" lengthAdjust="spacingAndGlyphs">each hexagon representing a state,</text>
<text x="1140.4" y="1920.2" font-size="18" fill="#6b6564" text-anchor="start" font-weight="normal" textLength="222.9" lengthAdjust="spacingAndGlyphs">resized proportional to the</text>
<text x="1108.7" y="1939.2" font-size="18" fill="#6b6564" text-anchor="start" font-weight="normal" textLength="281.3" lengthAdjust="spacingAndGlyphs">number of electoral college votes</text>
<text x="1213.5" y="1972.2" font-size="13.6" fill="#111" text-anchor="start" font-weight="normal" textLength="188.3" lengthAdjust="spacingAndGlyphs">Data not showing final results,</text>
<text x="1242.2" y="1989" font-size="13.6" fill="#111" text-anchor="start" font-weight="normal" textLength="159.6" lengthAdjust="spacingAndGlyphs">last updated Nov 8, 2020</text>
<defs><linearGradient id="lg" x1="0" y1="0" x2="0" y2="1"><stop offset="0" stop-color="#4c4c4c"/><stop offset="1" stop-color="#858585"/></linearGradient></defs>
<text x="5.3" y="1961.6" font-size="27" fill="url(#lg)" text-anchor="start" font-weight="bold" textLength="27.6" lengthAdjust="spacingAndGlyphs">W</text>
<text x="50.9" y="1961.6" font-size="27" fill="url(#lg)" text-anchor="start" font-weight="bold" textLength="48.8" lengthAdjust="spacingAndGlyphs">RLD</text>
<circle cx="38.7" cy="1951.7" r="7.9" fill="#fff" stroke="#5a5a5a" stroke-width="1.5"/><path d="M31,1951.7 H46.4 M38.7,1944 V1959.4 M32.5,1947.2 Q38.7,1949.6 44.9,1947.2 M32.5,1956.2 Q38.7,1953.8 44.9,1956.2 M38.7,1944 Q32,1951.7 38.7,1959.4 M38.7,1944 Q45.4,1951.7 38.7,1959.4" fill="none" stroke="#5a5a5a" stroke-width="0.9"/>
<text x="24.4" y="1983" font-size="26" fill="url(#lg)" text-anchor="start" font-weight="bold" textLength="107.1" lengthAdjust="spacingAndGlyphs">MAPPER</text>
<text x="24.6" y="1991.6" font-size="8.6" fill="#666" text-anchor="start" font-weight="bold" textLength="107.4" lengthAdjust="spacingAndGlyphs">www.worldmapper.org</text>
</svg>
</body></html>
